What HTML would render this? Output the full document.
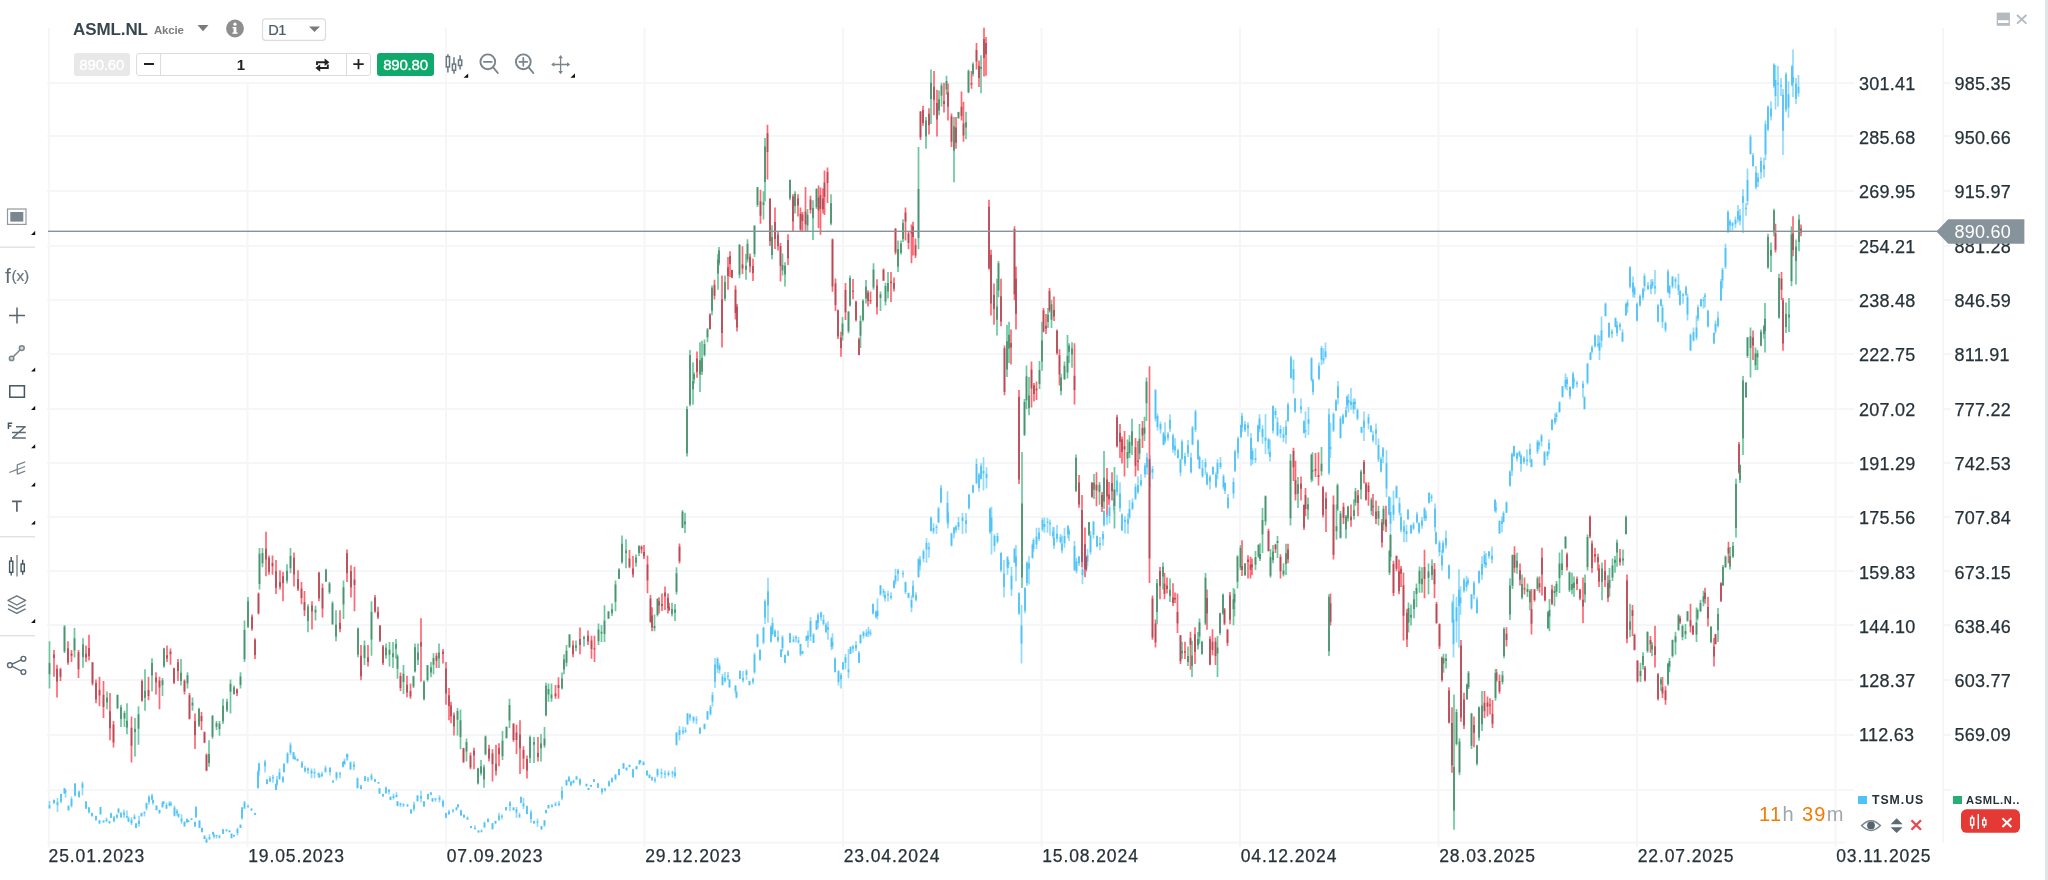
<!DOCTYPE html>
<html><head><meta charset="utf-8"><title>Chart</title>
<style>
html,body{margin:0;padding:0;background:#fff;}
body{width:2048px;height:880px;position:relative;overflow:hidden;font-family:"Liberation Sans",sans-serif;color:#263238;}
.abs{position:absolute;}
.ax{position:absolute;-webkit-text-stroke:0.25px #263238;font-size:18px;line-height:22px;height:22px;color:#263238;letter-spacing:0.25px;white-space:nowrap;}
.dt{position:absolute;-webkit-text-stroke:0.25px #263238;top:845px;font-size:17.5px;line-height:22px;color:#263238;letter-spacing:0.9px;white-space:nowrap;}
#chart{position:absolute;left:0;top:0;}
.tri{position:absolute;width:0;height:0;border-left:4.2px solid transparent;border-bottom:4.2px solid #111;}
.sep{position:absolute;left:0;width:35px;height:1.5px;background:#dfe2e4;}
</style></head>
<body>
<div id="root" style="position:absolute;left:0;top:0;width:2048px;height:880px;will-change:transform;">
<svg id="chart" width="2048" height="880" viewBox="0 0 2048 880">
<rect x="48.0" y="28" width="2" height="819.5" fill="#f5f6f8"/>
<rect x="246.5" y="28" width="2" height="819.5" fill="#f5f6f8"/>
<rect x="445.0" y="28" width="2" height="819.5" fill="#f5f6f8"/>
<rect x="643.5" y="28" width="2" height="819.5" fill="#f5f6f8"/>
<rect x="842.0" y="28" width="2" height="819.5" fill="#f5f6f8"/>
<rect x="1040.5" y="28" width="2" height="819.5" fill="#f5f6f8"/>
<rect x="1239.0" y="28" width="2" height="819.5" fill="#f5f6f8"/>
<rect x="1437.5" y="28" width="2" height="819.5" fill="#f5f6f8"/>
<rect x="1636.0" y="28" width="2" height="819.5" fill="#f5f6f8"/>
<rect x="1834.5" y="28" width="2" height="819.5" fill="#f5f6f8"/>
<rect x="1942" y="28" width="2" height="815" fill="#f5f6f8"/>
<rect x="47" y="82.0" width="1807" height="2" fill="#f5f6f8"/>
<rect x="1943" y="82.0" width="8" height="2" fill="#f5f6f8"/>
<rect x="47" y="135.0" width="1807" height="2" fill="#f5f6f8"/>
<rect x="1943" y="135.0" width="8" height="2" fill="#f5f6f8"/>
<rect x="47" y="190.0" width="1807" height="2" fill="#f5f6f8"/>
<rect x="1943" y="190.0" width="8" height="2" fill="#f5f6f8"/>
<rect x="47" y="245.0" width="1807" height="2" fill="#f5f6f8"/>
<rect x="1943" y="245.0" width="8" height="2" fill="#f5f6f8"/>
<rect x="47" y="299.0" width="1807" height="2" fill="#f5f6f8"/>
<rect x="1943" y="299.0" width="8" height="2" fill="#f5f6f8"/>
<rect x="47" y="353.0" width="1807" height="2" fill="#f5f6f8"/>
<rect x="1943" y="353.0" width="8" height="2" fill="#f5f6f8"/>
<rect x="47" y="408.0" width="1807" height="2" fill="#f5f6f8"/>
<rect x="1943" y="408.0" width="8" height="2" fill="#f5f6f8"/>
<rect x="47" y="462.0" width="1807" height="2" fill="#f5f6f8"/>
<rect x="1943" y="462.0" width="8" height="2" fill="#f5f6f8"/>
<rect x="47" y="516.0" width="1807" height="2" fill="#f5f6f8"/>
<rect x="1943" y="516.0" width="8" height="2" fill="#f5f6f8"/>
<rect x="47" y="570.0" width="1807" height="2" fill="#f5f6f8"/>
<rect x="1943" y="570.0" width="8" height="2" fill="#f5f6f8"/>
<rect x="47" y="624.0" width="1807" height="2" fill="#f5f6f8"/>
<rect x="1943" y="624.0" width="8" height="2" fill="#f5f6f8"/>
<rect x="47" y="679.0" width="1807" height="2" fill="#f5f6f8"/>
<rect x="1943" y="679.0" width="8" height="2" fill="#f5f6f8"/>
<rect x="47" y="734.0" width="1807" height="2" fill="#f5f6f8"/>
<rect x="1943" y="734.0" width="8" height="2" fill="#f5f6f8"/>
<rect x="47" y="789.0" width="1807" height="2" fill="#f5f6f8"/>
<rect x="1943" y="789.0" width="8" height="2" fill="#f5f6f8"/>
<rect x="47" y="841.6" width="1798" height="2" fill="#f5f6f8"/>
<path d="M49.5 801.0V809.1M57.5 798.1V812.0M64.5 787.9V793.7M68.5 805.4V810.6M75.0 783.0V796.6M82.5 781.6V795.2M89.0 806.9V813.5M96.0 815.7V820.8M100.5 806.9V815.0M106.5 817.6V822.3M111.0 812.8V817.9M117.0 814.2V818.6M121.0 812.0V817.9M127.0 810.6V818.6M131.5 817.2V825.2M136.0 823.0V828.1M141.5 812.8V816.4M146.5 802.5V810.6M152.0 793.7V800.3M156.5 805.4V810.6M162.5 801.8V807.6M166.5 802.5V809.1M171.0 801.8V806.2M177.0 809.1V815.7M181.5 814.2V823.7M187.0 818.6V823.0M191.5 818.3V820.1M196.0 806.5V817.9M202.0 827.4V832.5M206.5 837.7V842.8M213.0 831.8V834.7M216.5 834.7V838.4M223.0 828.9V834.0M229.5 830.3V832.5M234.0 834.7V836.9M240.5 824.5V828.1M244.5 801.0V809.1M251.5 808.4V810.6M258.0 770.3V788.6M265.0 759.7V772.5M270.0 776.1V782.0M276.0 783.5V790.1M279.5 768.4V779.8M284.0 763.0V772.5M290.5 742.5V754.9M295.0 755.6V760.0M302.0 761.1V768.1M308.0 767.4V773.9M314.5 768.4V778.3M319.5 773.2V778.3M325.5 765.4V772.5M333.0 780.5V782.7M340.0 771.7V778.3M344.5 758.6V765.2M347.5 753.7V760.0M354.0 761.5V770.3M361.0 784.9V789.3M368.0 776.9V782.0M375.0 779.1V782.0M379.5 787.9V793.7M386.0 786.4V793.7M390.5 796.6V800.3M396.5 792.3V797.4M400.5 802.5V806.9M407.5 804.0V806.9M414.0 801.8V811.3M421.0 790.8V802.5M428.0 793.7V799.6M432.5 798.1V801.8M439.5 795.2V802.5M446.0 812.8V817.9M453.0 809.1V812.8M458.0 804.0V807.6M464.0 814.2V817.9M471.0 825.9V828.1M478.5 830.3V832.5M484.5 821.5V828.1M492.5 823.0V829.6M499.0 812.8V820.8M506.0 806.9V810.6M513.5 806.9V810.6M519.5 812.8V817.9M523.5 798.1V809.1M531.0 809.8V823.0M537.5 818.6V826.7M544.5 820.1V826.7M548.5 804.7V808.4M555.5 801.8V806.2M562.0 786.4V800.3M569.0 776.1V782.0M573.5 779.8V783.5M580.0 778.3V785.7M588.5 787.9V790.1M594.0 779.1V782.0M602.0 787.9V794.4M609.0 780.5V786.4M615.5 773.9V780.5M623.5 763.0V768.8M629.5 764.4V767.4M636.5 765.9V769.5M640.5 760.0V762.6M647.0 770.5V775.7M652.0 776.5V780.9M657.5 768.4V777.0M665.0 770.5V778.3M672.5 770.5V777.5M676.5 732.0V745.6M683.0 726.8V734.6M687.5 712.9V725.2M693.5 716.3V723.4M700.0 727.3V733.9M707.5 711.1V720.0M712.5 692.0V706.4M717.5 657.3V672.9M722.5 673.7V685.5M728.0 671.9V680.3M735.5 685.0V693.3M740.0 670.3V679.0M746.5 669.3V679.7M753.0 677.6V684.2M757.5 633.7V647.6M763.5 626.7V644.2M768.0 577.8V622.7M772.5 617.5V635.8M778.0 630.6V642.4M782.5 635.3V651.5M788.0 650.2V656.2M793.5 635.8V642.4M798.5 637.1V643.7M802.5 651.0V654.6M808.0 630.6V647.6M813.5 633.2V643.1M818.0 612.8V628.5M823.5 614.4V625.4M828.0 621.4V639.7M832.5 633.2V648.9M838.5 670.3V685.5M843.0 662.0V669.8M848.5 648.9V678.2M853.0 645.0V652.8M859.0 651.0V663.3M863.5 631.1V638.4M868.5 626.7V637.1M873.0 603.6V614.5M877.5 598.2V619.4M883.5 588.6V596.8M888.0 590.8V601.4M894.0 580.4V588.6M898.0 568.7V581.3M905.5 581.8V594.1M911.5 595.4V612.3M916.0 592.2V601.4M920.0 555.9V570.4M926.5 538.2V562.7M931.0 516.4V531.4M936.5 524.5V534.1M941.0 485.0V503.3M948.0 511.4V528.6M954.0 526.7V538.2M958.5 516.9V530.0M966.0 513.1V533.3M973.0 485.0V493.2M979.0 472.7V491.8M983.5 457.2V490.4M990.0 507.6V534.1M994.5 534.1V551.8M1001.0 552.4V572.3M1007.5 555.9V575.0M1011.5 566.8V596.0M1016.0 545.0V581.3M1021.5 605.0V663.6M1027.0 561.4V585.9M1032.5 543.6V558.6M1036.5 527.8V549.1M1042.5 517.7V531.4M1047.5 517.7V532.7M1053.0 526.7V538.2M1057.0 525.1V542.3M1062.0 535.4V553.2M1068.0 525.1V538.2M1074.5 540.9V570.9M1079.0 555.9V566.0M1085.0 558.6V576.4M1087.5 548.7V566.5M1093.5 520.7V538.4M1100.0 536.9V550.2M1104.0 510.3V526.6M1109.5 504.4V523.6M1117.0 474.8V495.5M1122.0 513.3V531.0M1128.0 513.3V534.0M1132.5 498.5V510.3M1138.0 476.3V494.1M1145.0 463.0V477.8M1150.0 455.6V486.7M1155.5 389.1V421.6M1160.5 421.6V433.5M1165.0 422.2V443.8M1170.0 414.2V432.0M1175.0 437.9V455.6M1180.5 458.6V476.3M1185.0 452.7V466.0M1191.0 452.7V473.4M1195.5 409.8V432.0M1199.5 455.6V468.9M1205.5 458.6V474.8M1210.0 474.8V489.6M1216.0 472.5V488.1M1220.5 457.1V468.9M1225.0 482.2V494.1M1233.5 477.8V498.5M1238.0 436.4V458.6M1242.0 412.8V432.0M1248.0 422.2V436.4M1252.5 448.2V464.5M1258.0 424.6V442.3M1262.5 425.2V443.8M1268.5 437.9V454.2M1273.0 405.4V433.5M1277.5 417.2V436.4M1283.5 427.0V442.3M1288.0 402.4V421.6M1293.5 359.6V393.6M1301.0 398.6V413.4M1305.5 411.3V437.9M1311.5 357.2V381.7M1319.0 362.5V380.3M1323.5 348.3V364.0M1329.0 408.4V475.1M1333.5 412.4V432.0M1338.0 381.0V404.5M1343.0 413.7V424.1M1347.0 395.4V408.4M1351.0 388.0V409.7M1355.0 398.5V409.7M1361.5 426.7V433.3M1368.5 413.7V429.3M1373.0 430.7V442.4M1378.5 438.5V462.0M1383.0 447.1V463.3M1389.0 496.0V515.6M1393.5 490.8V520.8M1399.5 497.3V515.6M1404.0 520.3V542.3M1408.0 509.1V519.5M1413.5 522.2V530.0M1419.0 522.2V533.9M1424.5 507.1V521.0M1429.0 492.2V503.4M1435.0 503.4V531.4M1439.5 540.6V556.2M1443.0 540.6V553.1M1449.0 564.6V579.2M1453.5 594.1V657.6M1459.0 569.3V647.7M1464.0 577.7V592.8M1468.0 577.7V585.0M1474.0 581.1V599.3M1479.0 570.6V583.7M1484.5 551.0V567.2M1489.0 551.0V558.8M1495.0 499.3V511.8M1499.5 520.2V534.0M1503.5 511.3V522.3M1510.0 470.2V486.5M1514.0 445.7V456.9M1519.5 450.4V456.9M1524.0 456.3V464.3M1530.0 443.6V462.8M1537.5 439.8V454.0M1541.5 433.9V446.6M1547.5 451.0V459.9M1552.0 419.1V430.3M1556.5 412.0V421.4M1562.5 386.0V397.8M1567.0 377.1V390.4M1573.0 371.8V388.9M1577.0 380.7V387.5M1584.5 396.3V409.6M1590.5 352.0V360.0M1595.0 334.2V347.5M1599.5 335.7V360.0M1605.5 302.6V316.5M1612.0 329.2V338.1M1617.0 320.9V336.3M1622.5 329.2V342.2M1627.5 299.7V312.7M1633.0 276.6V297.3M1637.0 302.6V321.5M1643.0 287.8V300.3M1648.0 281.9V289.9M1652.5 279.0V288.4M1658.0 303.8V322.4M1662.5 304.7V328.3M1668.0 269.2V292.9M1672.5 276.0V288.4M1678.5 273.6V294.9M1683.0 292.9V303.8M1687.5 293.7V320.4M1693.5 327.4V341.6M1698.0 304.7V320.9M1703.5 296.7V308.5M1708.0 309.7V327.4M1715.5 320.4V333.4M1721.0 279.0V300.8M1725.5 243.8V268.9M1730.0 219.3V232.1M1735.5 216.6V228.0M1740.0 208.9V225.3M1746.0 202.9V215.7M1750.5 134.8V154.4M1756.0 165.9V189.3M1761.0 157.2V179.0M1765.5 120.4V159.9M1771.0 101.3V120.4M1775.5 65.1V109.5M1781.0 78.1V95.9M1786.0 72.2V112.2M1792.0 65.1V86.3M1796.0 78.1V104.0" stroke="#4fc3f7" stroke-opacity="0.62" stroke-width="1.7" fill="none"/>
<path d="M54.0 799.6V804.0M61.0 793.7V803.2M65.5 789.3V797.4M71.5 796.6V807.6M79.0 790.8V797.4M86.0 801.0V809.1M92.0 812.8V816.4M99.5 820.1V823.7M103.5 820.5V822.6M109.5 820.8V823.7M114.0 815.7V822.3M118.5 808.4V813.5M124.0 809.8V817.9M128.5 816.4V822.3M134.5 814.2V819.4M139.0 815.7V826.7M144.5 811.3V816.4M149.0 795.2V804.7M153.0 799.6V804.7M159.5 809.8V813.5M163.5 801.0V804.0M169.5 801.0V806.2M174.5 805.4V816.4M178.5 813.5V817.9M184.5 821.5V826.7M188.5 820.1V822.3M195.0 821.5V826.7M199.5 820.1V828.1M204.5 835.5V839.1M209.5 834.3V839.9M214.0 833.3V838.4M219.5 834.7V838.4M226.5 829.3V831.8M231.5 833.3V838.4M237.5 827.4V835.5M242.0 806.9V819.4M248.0 804.4V807.6M255.0 812.8V815.0M259.0 762.5V775.4M267.0 779.1V784.2M273.0 774.7V782.7M277.0 776.1V785.7M283.0 776.1V782.7M287.5 752.3V763.7M293.5 752.0V759.3M297.5 758.6V761.5M305.0 765.9V772.5M311.5 768.4V778.3M318.5 772.5V777.6M322.0 771.7V776.9M330.0 766.9V775.4M336.5 771.7V780.5M343.0 761.5V767.4M347.0 753.4V760.8M350.5 761.5V769.5M357.5 777.6V788.6M365.0 776.1V781.3M371.5 773.2V780.5M378.5 782.0V783.5M383.0 793.7V796.6M389.0 789.3V794.4M393.5 793.7V799.6M397.5 801.0V806.2M403.5 803.2V806.9M411.0 809.1V813.5M417.5 795.2V801.8M424.0 801.0V806.9M431.0 792.3V795.2M435.5 798.1V801.8M443.0 799.6V807.6M449.0 809.8V815.0M456.5 806.9V810.6M461.0 809.8V815.7M467.5 816.4V820.1M475.0 825.2V829.6M481.5 829.6V832.5M488.0 818.6V822.3M495.5 820.8V823.7M502.0 814.2V819.4M510.0 801.0V811.3M516.5 806.9V817.9M521.0 796.6V803.2M527.0 805.4V814.2M534.0 820.8V823.7M541.5 825.9V829.6M546.0 809.8V813.5M552.0 804.0V807.6M559.0 801.0V806.2M566.5 779.8V785.7M571.0 781.3V785.7M576.5 776.1V779.8M586.5 783.5V786.4M591.0 784.9V786.8M598.0 782.7V787.9M605.0 787.9V791.5M612.0 777.6V782.7M619.0 768.8V775.4M626.5 767.4V770.3M633.0 768.8V777.6M639.5 760.0V764.4M643.5 761.3V765.2M649.5 774.4V778.3M655.0 777.0V782.7M661.5 768.6V778.3M668.5 770.5V776.5M675.0 767.1V778.3M679.5 726.0V740.4M685.5 727.3V733.1M690.0 713.5V720.8M696.5 716.3V724.2M704.5 723.4V729.4M710.5 705.1V715.6M715.0 658.0V688.1M719.5 663.3V673.7M725.0 671.9V682.4M729.5 679.0V688.1M736.5 690.7V698.6M743.0 671.1V682.4M749.5 680.8V685.5M754.5 652.8V673.7M760.0 649.4V660.7M765.0 599.2V624.1M771.0 625.4V642.4M775.0 629.3V637.1M781.0 648.9V657.3M785.0 654.6V663.3M790.0 632.7V643.1M796.0 635.3V642.4M800.5 643.7V656.2M806.5 635.8V641.0M810.5 617.0V641.0M816.5 620.1V630.1M821.0 611.8V620.7M826.0 622.7V633.2M831.5 637.1V650.2M835.0 657.3V672.4M841.0 672.9V688.6M845.5 654.1V669.3M850.5 646.3V654.1M856.0 641.0V651.0M860.5 634.5V643.7M866.5 629.3V637.1M870.5 629.5V635.8M876.0 610.4V618.6M880.5 585.1V595.4M885.0 591.3V601.4M891.0 592.2V599.5M895.5 568.7V584.5M903.0 570.4V577.7M908.5 592.7V598.2M913.0 580.4V598.2M918.5 557.8V577.7M923.5 549.6V562.2M929.0 542.3V557.8M933.5 523.2V534.1M938.5 506.8V523.2M947.5 491.3V524.5M951.5 532.7V546.4M956.0 525.1V532.7M962.5 513.1V534.1M969.0 494.0V509.5M976.5 458.5V484.2M981.0 463.2V479.5M986.5 467.3V488.5M991.5 506.8V554.5M997.5 532.7V543.6M1004.0 560.0V597.6M1008.5 560.0V568.2M1014.5 547.7V562.7M1019.0 592.2V615.1M1025.0 587.3V613.2M1029.0 555.9V584.5M1033.5 538.2V551.8M1039.0 527.8V540.9M1044.5 517.7V532.7M1050.0 519.6V535.4M1054.0 527.3V549.1M1060.5 534.1V543.6M1064.5 527.8V547.7M1069.0 528.6V540.9M1076.5 557.8V573.6M1082.5 552.4V584.0M1086.5 561.4V570.9M1090.5 531.0V554.7M1097.0 535.4V547.3M1103.0 531.0V545.8M1107.0 513.3V525.1M1114.0 489.6V513.3M1120.0 482.2V511.8M1125.0 516.2V533.4M1129.5 500.0V519.2M1135.5 483.7V500.0M1141.0 474.3V486.7M1147.0 452.7V474.8M1152.5 466.0V479.3M1157.5 413.4V430.5M1163.5 432.0V445.3M1168.0 432.0V440.8M1173.0 433.5V452.7M1178.0 448.8V458.6M1182.0 439.4V460.1M1188.0 440.0V457.1M1192.5 426.1V445.3M1198.0 439.4V460.1M1202.5 460.1V477.8M1207.0 471.9V485.2M1213.0 466.6V474.8M1217.5 459.2V479.3M1223.5 474.3V489.6M1228.0 494.1V508.8M1235.0 449.7V471.9M1241.0 424.6V437.9M1245.0 421.0V432.0M1251.0 432.9V466.0M1255.5 448.2V463.0M1259.5 414.2V432.0M1265.5 414.2V454.2M1270.0 439.4V461.5M1275.5 408.3V418.7M1280.5 425.2V437.9M1286.0 420.2V443.8M1291.0 355.7V378.8M1295.0 398.0V412.8M1304.0 420.2V433.5M1308.5 406.9V434.9M1313.0 378.8V395.0M1321.5 345.7V365.3M1325.5 342.5V358.8M1330.5 422.8V458.1M1336.0 399.3V411.0M1340.5 416.3V438.5M1346.0 407.1V417.6M1348.5 394.1V412.4M1353.5 398.5V413.7M1357.5 408.4V420.2M1364.0 411.6V441.1M1371.0 425.4V432.5M1376.0 423.6V445.0M1381.0 456.8V472.5M1386.5 450.3V497.3M1390.5 497.3V532.6M1396.5 485.6V498.6M1401.0 513.0V532.6M1406.5 524.8V542.3M1411.0 524.8V533.9M1417.0 511.7V523.5M1422.0 517.0V528.8M1426.0 510.5V521.0M1431.5 494.0V501.9M1436.0 531.4V544.5M1442.0 549.7V570.6M1446.0 530.6V548.4M1452.5 600.7V622.9M1456.5 596.7V642.5M1460.5 586.3V615.0M1466.5 575.8V591.5M1471.5 594.1V609.8M1477.0 596.7V613.7M1482.0 556.2V579.7M1486.0 553.1V568.0M1492.0 546.6V563.5M1496.0 501.9V513.1M1502.0 516.5V532.2M1506.5 501.4V513.1M1512.0 452.5V476.1M1517.0 452.5V461.4M1521.0 454.0V471.7M1527.0 449.5V465.8M1531.5 458.4V467.3M1539.0 440.7V449.5M1544.5 451.0V465.8M1549.0 439.2V454.0M1555.0 413.2V424.4M1559.5 401.3V412.6M1565.5 373.6V388.9M1570.0 386.0V399.3M1574.0 377.1V386.6M1583.0 380.7V397.8M1587.5 362.9V384.5M1592.0 345.2V353.5M1598.0 335.1V347.5M1601.5 316.5V347.5M1609.0 322.4V338.1M1615.5 317.4V327.4M1620.0 322.4V330.4M1626.0 302.6V315.6M1630.0 266.3V288.4M1634.5 286.1V297.9M1640.0 294.3V306.8M1644.5 273.6V291.4M1651.0 279.6V294.3M1655.0 270.1V294.3M1661.0 298.8V306.2M1665.5 321.5V332.2M1669.5 284.9V297.9M1675.5 277.2V288.4M1680.0 289.9V305.6M1686.0 285.5V295.8M1690.5 333.4V351.1M1696.5 315.6V340.2M1701.0 298.8V306.8M1705.0 292.9V307.6M1714.0 332.2V344.0M1718.0 311.5V327.4M1722.5 267.7V288.4M1728.0 210.3V232.9M1732.5 222.0V230.7M1738.0 204.9V222.6M1743.0 189.3V232.9M1747.5 168.6V204.9M1753.0 153.1V166.7M1758.0 173.0V187.1M1764.0 157.7V177.6M1768.0 105.4V131.3M1774.0 63.2V87.7M1778.0 65.9V106.8M1783.0 89.0V155.0M1788.5 81.4V117.7M1793.0 49.5V97.2M1798.5 74.9V96.7" stroke="#4fc3f7" stroke-opacity="0.62" stroke-width="1.7" fill="none"/>
<path d="M49.5 805.2V808.0M54.0 799.9V803.1M57.5 802.0V805.2M61.0 794.1V801.7M64.5 788.3V793.4M65.5 790.4V792.8M68.5 805.7V810.2M71.5 799.1V806.0M75.0 783.7V795.4M79.0 791.4V797.0M82.5 783.4V787.9M86.0 801.4V808.5M89.0 807.5V812.2M92.0 812.9V816.2M96.0 816.1V820.1M99.5 820.4V823.6M100.5 807.1V814.1M103.5 820.6V822.4M106.5 819.5V821.0M109.5 821.2V823.0M111.0 813.2V817.7M114.0 817.3V821.2M117.0 814.8V817.5M118.5 808.6V812.6M121.0 813.3V816.9M124.0 812.4V815.2M127.0 815.9V817.2M128.5 818.2V821.4M131.5 819.7V823.3M134.5 816.4V818.9M136.0 823.5V828.0M139.0 820.7V824.0M141.5 813.1V816.3M144.5 811.9V813.2M146.5 803.2V808.6M149.0 796.8V802.3M152.0 795.4V799.4M153.0 799.9V802.9M156.5 805.5V810.0M159.5 810.0V813.2M162.5 802.7V807.2M163.5 801.4V803.8M166.5 805.0V808.4M169.5 803.0V805.5M171.0 803.6V804.9M174.5 807.4V815.8M177.0 811.1V813.3M178.5 813.8V816.4M181.5 818.4V821.4M184.5 821.8V826.3M187.0 819.1V821.9M188.5 820.5V821.8M191.5 818.4V819.9M195.0 822.0V826.5M196.0 806.8V816.9M199.5 820.7V827.8M202.0 828.0V831.9M204.5 835.7V838.9M206.5 839.4V842.4M209.5 837.2V838.9M213.0 831.9V834.5M214.0 835.0V836.5M216.5 835.3V836.6M219.5 836.1V837.4M223.0 829.3V833.8M226.5 829.5V830.8M229.5 830.6V831.9M231.5 833.7V838.1M234.0 834.9V836.2M237.5 829.3V833.3M240.5 824.7V827.9M242.0 807.6V818.6M244.5 802.3V808.6M248.0 805.9V807.2M251.5 808.6V810.5M255.0 812.9V814.8M258.0 771.8V787.9M259.0 763.5V771.5M265.0 761.8V766.2M267.0 779.5V784.0M270.0 778.3V781.5M273.0 777.1V778.4M276.0 784.0V789.9M277.0 779.7V784.4M279.5 772.4V779.0M283.0 777.2V781.8M284.0 763.9V772.3M287.5 753.5V762.6M290.5 744.8V752.8M293.5 752.3V758.7M295.0 757.6V759.3M297.5 758.9V760.7M302.0 762.7V767.3M305.0 768.1V771.2M308.0 768.4V770.4M311.5 770.7V773.5M314.5 772.0V773.3M318.5 773.5V775.0M319.5 775.2V776.9M322.0 774.1V775.9M325.5 767.8V771.9M330.0 768.0V772.1M333.0 780.6V782.5M336.5 772.5V778.1M340.0 773.3V774.6M343.0 761.7V766.8M344.5 760.8V763.9M347.0 754.2V757.0M347.5 755.1V756.4M350.5 762.3V769.4M354.0 764.6V766.9M357.5 778.3V787.9M361.0 785.7V788.9M365.0 776.6V781.1M368.0 778.8V780.1M371.5 775.4V779.3M375.0 779.3V781.8M378.5 782.1V783.4M379.5 788.4V793.5M383.0 793.9V796.5M386.0 787.7V793.0M389.0 789.8V791.7M390.5 796.8V800.0M393.5 796.1V798.1M396.5 795.0V796.9M397.5 801.6V806.1M400.5 803.4V805.1M403.5 804.2V805.5M407.5 804.8V806.1M411.0 809.5V813.4M414.0 804.6V809.1M417.5 795.4V801.1M421.0 796.1V798.6M424.0 801.4V806.6M428.0 794.1V799.3M431.0 792.4V794.8M432.5 798.2V801.4M435.5 798.5V799.8M439.5 797.5V799.7M443.0 801.1V806.2M446.0 813.3V817.8M449.0 811.4V813.9M453.0 810.3V811.6M456.5 807.6V809.8M458.0 804.6V807.3M461.0 810.3V815.5M464.0 814.9V817.6M467.5 817.6V819.4M471.0 826.1V828.1M475.0 827.7V829.0M478.5 830.4V832.4M481.5 830.5V831.8M484.5 822.7V827.2M488.0 818.7V822.0M492.5 823.2V829.0M495.5 821.1V823.6M499.0 815.4V819.8M502.0 815.7V817.0M506.0 807.1V810.3M510.0 802.4V806.0M513.5 807.7V810.1M516.5 809.2V812.6M519.5 814.8V816.8M521.0 797.0V802.8M523.5 803.4V806.2M527.0 806.3V814.0M531.0 812.2V819.1M534.0 820.9V823.5M537.5 821.5V822.8M541.5 826.3V829.5M544.5 820.5V825.5M546.0 809.9V813.1M548.5 805.1V808.3M552.0 805.6V806.9M555.5 803.8V805.6M559.0 803.6V804.9M562.0 791.0V798.2M566.5 780.1V785.2M569.0 777.2V781.0M571.0 781.5V785.4M573.5 780.8V783.1M576.5 776.4V779.6M580.0 779.4V784.3M586.5 784.1V786.3M588.5 788.0V789.9M591.0 785.0V786.7M594.0 779.2V781.7M598.0 783.4V787.7M602.0 788.8V792.3M605.0 788.4V790.2M609.0 781.6V785.9M612.0 778.3V781.9M615.5 774.8V779.1M619.0 769.1V774.9M623.5 763.3V768.4M626.5 767.8V770.2M629.5 765.0V766.8M633.0 769.4V777.2M636.5 766.0V769.3M639.5 760.5V764.3M640.5 760.9V762.2M643.5 762.3V764.9M647.0 770.6V775.2M649.5 774.7V778.0M652.0 777.4V779.8M655.0 779.3V780.7M657.5 769.3V775.3M661.5 772.6V773.9M665.0 773.2V774.5M668.5 772.8V775.0M672.5 772.2V773.8M675.0 772.6V776.0M676.5 732.7V744.7M679.5 730.1V734.9M683.0 730.7V732.6M685.5 730.2V731.5M687.5 713.4V723.8M690.0 714.7V717.6M693.5 717.1V720.7M696.5 719.2V720.5M700.0 727.7V733.5M704.5 723.9V728.8M707.5 711.6V719.3M710.5 707.1V714.3M712.5 695.0V701.8M715.0 664.5V681.8M717.5 658.8V668.5M719.5 665.6V670.2M722.5 676.5V685.0M725.0 678.1V680.9M728.0 675.8V677.1M729.5 679.8V686.9M735.5 685.7V690.9M736.5 692.1V697.4M740.0 671.1V678.7M743.0 677.7V680.5M746.5 671.1V675.0M749.5 680.9V685.1M753.0 678.9V682.1M754.5 654.8V672.2M757.5 634.5V646.7M760.0 649.8V659.7M763.5 627.7V642.6M765.0 601.3V617.8M768.0 591.2V605.6M771.0 626.7V641.7M772.5 623.0V634.0M775.0 630.9V636.7M778.0 636.9V640.6M781.0 649.7V657.0M782.5 637.3V648.0M785.0 655.1V662.7M788.0 651.4V655.5M790.0 633.2V642.4M793.5 639.5V641.6M796.0 637.0V638.6M798.5 640.6V642.2M800.5 644.0V654.3M802.5 651.3V653.4M806.5 636.1V640.7M808.0 635.3V639.4M810.5 621.1V636.7M813.5 634.5V642.8M816.5 620.7V629.4M818.0 615.0V623.1M821.0 612.6V617.2M823.5 619.8V623.8M826.0 624.8V632.1M828.0 627.2V629.7M831.5 638.6V647.0M832.5 641.9V646.3M835.0 658.7V672.1M838.5 671.3V682.0M841.0 675.0V679.3M843.0 662.6V669.5M845.5 657.2V662.8M848.5 669.5V672.3M850.5 646.9V653.8M853.0 646.5V648.8M856.0 645.1V648.4M859.0 652.7V662.7M860.5 634.8V642.9M863.5 632.3V635.9M866.5 632.7V635.7M868.5 631.6V633.2M870.5 632.7V634.1M873.0 604.0V613.6M876.0 611.9V616.9M877.5 610.5V616.1M880.5 585.5V594.6M883.5 591.0V592.7M885.0 595.1V598.5M888.0 593.9V595.2M891.0 596.1V597.9M894.0 580.7V587.9M895.5 575.4V581.4M898.0 570.3V573.8M903.0 572.9V574.2M905.5 582.2V592.3M908.5 592.9V597.7M911.5 599.9V607.4M913.0 585.7V597.1M916.0 594.9V599.7M918.5 559.6V577.1M920.0 559.5V565.5M923.5 551.2V558.6M926.5 542.9V549.5M929.0 547.2V549.3M931.0 517.7V530.9M933.5 527.9V531.4M936.5 526.8V528.1M938.5 508.5V522.3M941.0 487.7V502.6M947.5 503.1V521.3M948.0 513.0V522.7M951.5 533.6V545.6M954.0 527.8V533.4M956.0 526.8V529.7M958.5 522.3V527.0M962.5 517.5V521.1M966.0 520.2V524.0M969.0 494.7V508.3M973.0 485.2V492.4M976.5 464.0V483.1M979.0 474.4V487.9M981.0 465.7V478.7M983.5 470.9V473.6M986.5 473.7V478.0M990.0 509.0V532.3M991.5 517.6V531.3M994.5 536.0V546.1M997.5 536.1V541.7M1001.0 552.8V570.3M1004.0 573.6V586.9M1007.5 557.4V567.5M1008.5 561.9V564.3M1011.5 575.8V589.5M1014.5 549.2V562.4M1016.0 556.5V566.6M1019.0 593.3V613.5M1021.5 625.5V643.5M1025.0 588.1V610.8M1027.0 562.6V583.1M1029.0 563.3V568.7M1032.5 544.7V557.9M1033.5 540.0V548.9M1036.5 536.6V544.4M1039.0 532.5V539.1M1042.5 519.9V529.5M1044.5 523.9V527.1M1047.5 521.5V522.8M1050.0 522.8V524.3M1053.0 531.8V535.9M1054.0 537.7V545.8M1057.0 533.7V538.7M1060.5 537.0V542.1M1062.0 543.4V550.4M1064.5 536.0V543.2M1068.0 526.2V534.5M1069.0 531.1V534.5M1074.5 546.0V569.8M1076.5 561.3V571.2M1079.0 556.4V563.6M1082.5 569.3V575.3M1085.0 567.3V568.6M1086.5 566.9V568.6M1087.5 554.9V562.1M1090.5 535.3V552.2M1093.5 522.1V534.7M1097.0 536.1V546.5M1100.0 543.3V544.9M1103.0 534.0V539.2M1104.0 510.7V525.0M1107.0 515.4V517.0M1109.5 507.5V516.1M1114.0 498.1V509.9M1117.0 480.5V491.9M1120.0 493.6V508.1M1122.0 514.7V530.3M1125.0 519.7V521.8M1128.0 519.1V523.8M1129.5 509.1V517.2M1132.5 502.4V508.7M1135.5 486.8V498.8M1138.0 485.0V492.1M1141.0 480.2V485.0M1145.0 465.6V474.3M1147.0 457.6V467.6M1150.0 462.9V474.6M1152.5 468.9V472.4M1155.5 390.2V418.8M1157.5 416.1V427.1M1160.5 424.0V429.5M1163.5 433.4V444.9M1165.0 435.7V441.3M1168.0 434.2V438.0M1170.0 419.7V428.7M1173.0 435.5V449.6M1175.0 445.7V450.4M1178.0 450.3V458.1M1180.5 459.7V472.6M1182.0 441.4V458.8M1185.0 456.0V463.4M1188.0 445.2V453.5M1191.0 457.5V472.2M1192.5 427.6V444.5M1195.5 411.5V429.8M1198.0 440.6V458.8M1199.5 456.9V468.6M1202.5 468.1V476.3M1205.5 462.3V467.2M1207.0 474.1V484.5M1210.0 476.9V481.6M1213.0 466.9V474.2M1216.0 474.5V486.4M1217.5 463.0V473.7M1220.5 462.8V467.1M1223.5 476.0V487.3M1225.0 483.1V490.7M1228.0 497.4V507.8M1233.5 482.0V493.4M1235.0 451.3V470.8M1238.0 438.5V453.0M1241.0 425.0V436.7M1242.0 415.8V427.4M1245.0 424.3V430.3M1248.0 425.0V428.3M1251.0 438.1V459.2M1252.5 451.1V460.1M1255.5 458.2V459.9M1258.0 425.6V441.2M1259.5 418.4V428.9M1262.5 428.9V436.9M1265.5 437.6V440.8M1268.5 439.6V448.7M1270.0 451.8V456.8M1273.0 406.1V430.8M1275.5 410.9V415.0M1277.5 422.2V435.0M1280.5 429.1V433.6M1283.5 434.3V437.8M1286.0 426.6V435.1M1288.0 404.4V421.3M1291.0 357.4V377.7M1293.5 368.9V380.0M1295.0 398.4V411.4M1301.0 406.6V409.4M1304.0 421.3V433.0M1305.5 430.0V431.7M1308.5 419.3V423.7M1311.5 358.3V379.8M1313.0 379.8V391.9M1319.0 365.8V378.8M1321.5 348.1V359.6M1323.5 358.3V360.6M1325.5 351.3V357.0M1329.0 414.5V473.1M1330.5 446.9V448.9M1333.5 414.0V430.4M1336.0 400.5V410.8M1338.0 386.2V397.9M1340.5 418.4V437.9M1343.0 415.5V423.6M1346.0 410.3V416.7M1347.0 396.6V405.8M1348.5 400.1V403.3M1351.0 401.5V404.9M1353.5 401.8V409.3M1355.0 401.9V404.0M1357.5 410.0V418.5M1361.5 426.9V432.6M1364.0 420.8V427.7M1368.5 417.2V423.4M1371.0 425.6V431.8M1373.0 435.1V440.6M1376.0 429.6V433.8M1378.5 445.1V459.6M1381.0 458.9V471.6M1383.0 448.6V456.7M1386.5 463.2V488.6M1389.0 497.3V514.6M1390.5 512.1V523.8M1393.5 505.2V514.6M1396.5 486.3V497.8M1399.5 503.2V512.7M1401.0 517.0V530.2M1404.0 526.4V531.8M1406.5 531.1V534.2M1408.0 510.0V519.2M1411.0 525.2V533.3M1413.5 524.5V528.6M1417.0 514.3V522.2M1419.0 523.3V532.2M1422.0 520.4V525.6M1424.5 508.7V518.6M1426.0 515.6V518.1M1429.0 493.0V502.8M1431.5 496.6V498.3M1435.0 508.7V527.0M1436.0 532.2V543.7M1439.5 542.8V552.3M1442.0 555.8V565.5M1443.0 543.1V552.5M1446.0 538.1V545.2M1449.0 565.6V578.5M1452.5 602.7V622.3M1453.5 619.4V644.2M1456.5 607.3V621.5M1459.0 589.7V605.9M1460.5 597.5V603.3M1464.0 579.8V590.7M1466.5 582.1V586.9M1468.0 580.3V583.3M1471.5 594.5V608.3M1474.0 583.1V594.8M1477.0 599.6V613.0M1479.0 571.1V582.6M1482.0 564.1V574.7M1484.5 555.0V563.9M1486.0 562.5V565.0M1489.0 551.5V556.3M1492.0 555.8V559.6M1495.0 499.7V510.7M1496.0 507.8V509.8M1499.5 521.0V533.2M1502.0 521.2V523.9M1503.5 512.9V521.9M1506.5 502.5V512.8M1510.0 471.4V485.8M1512.0 453.9V470.8M1514.0 446.0V455.9M1517.0 453.1V458.6M1519.5 452.0V455.6M1521.0 455.8V464.1M1524.0 458.0V462.1M1527.0 459.5V461.3M1530.0 448.7V454.7M1531.5 459.4V466.9M1537.5 441.8V451.8M1539.0 442.8V445.3M1541.5 435.8V441.6M1544.5 452.2V465.2M1547.5 452.0V455.9M1549.0 442.9V449.2M1552.0 420.1V430.0M1555.0 417.9V422.4M1556.5 414.3V417.1M1559.5 402.4V412.2M1562.5 386.3V396.7M1565.5 380.1V386.9M1567.0 379.2V384.0M1570.0 387.0V396.2M1573.0 373.8V388.5M1574.0 379.9V381.2M1577.0 382.7V384.2M1583.0 383.7V387.9M1584.5 397.4V409.1M1587.5 363.7V382.7M1590.5 352.7V359.8M1592.0 347.2V351.8M1595.0 335.4V346.2M1598.0 344.1V345.4M1599.5 342.7V350.7M1601.5 330.2V340.7M1605.5 303.8V316.0M1609.0 322.9V336.7M1612.0 331.4V333.7M1615.5 318.1V326.9M1617.0 325.3V332.9M1620.0 324.5V327.1M1622.5 332.4V341.2M1626.0 303.9V315.4M1627.5 302.5V306.6M1630.0 267.2V286.7M1633.0 282.4V292.3M1634.5 288.3V294.7M1637.0 304.1V320.4M1640.0 296.2V304.9M1643.0 289.2V297.6M1644.5 276.1V285.9M1648.0 285.4V288.9M1651.0 284.7V289.0M1652.5 281.7V285.8M1655.0 286.3V288.5M1658.0 305.2V321.6M1661.0 299.4V305.9M1662.5 307.6V322.1M1665.5 323.1V329.7M1668.0 271.5V292.3M1669.5 286.1V293.8M1672.5 276.8V286.4M1675.5 279.3V281.6M1678.5 284.7V290.2M1680.0 291.0V304.8M1683.0 294.4V295.8M1686.0 287.2V294.7M1687.5 297.2V314.5M1690.5 334.7V350.3M1693.5 332.0V340.4M1696.5 327.4V337.6M1698.0 307.3V318.5M1701.0 299.3V306.3M1703.5 299.8V301.1M1705.0 295.3V297.1M1708.0 311.0V326.6M1714.0 332.9V343.3M1715.5 323.7V331.4M1718.0 317.7V326.0M1721.0 281.2V300.4M1722.5 269.6V280.6M1725.5 248.1V266.6M1728.0 211.9V231.8M1730.0 221.2V225.5M1732.5 223.2V225.8M1735.5 219.7V224.3M1738.0 210.9V219.6M1740.0 215.2V220.8M1743.0 196.3V202.8M1746.0 207.8V209.1M1747.5 179.9V201.0M1750.5 136.8V154.1M1753.0 155.3V166.0M1756.0 172.5V187.3M1758.0 177.4V182.1M1761.0 161.1V172.2M1764.0 165.1V169.2M1765.5 124.2V154.5M1768.0 106.7V129.5M1771.0 108.6V116.6M1774.0 64.5V86.1M1775.5 80.1V96.0M1778.0 83.3V84.6M1781.0 85.1V86.6M1783.0 94.8V130.8M1786.0 74.2V109.4M1788.5 94.2V107.4M1792.0 66.4V85.1M1793.0 77.0V83.0M1796.0 83.8V98.8M1798.5 86.7V93.2" stroke="#4fc3f7" stroke-width="1.7" fill="none"/>
<path d="M54.0 650.1V676.7M57.0 664.8V697.4M60.5 667.8V681.1M68.0 641.2V664.8M71.5 650.1V661.9M78.5 650.1V678.1M86.0 645.6V661.9M89.0 634.7V660.4M92.5 661.9V685.5M96.0 679.6V703.3M99.5 676.7V706.2M103.5 681.1V718.0M110.0 692.9V740.2M113.5 721.0V747.6M131.5 716.6V762.4M142.0 679.6V701.8M148.5 676.7V700.3M156.0 672.2V694.4M159.5 676.7V709.2M167.0 645.6V661.9M170.5 648.6V664.8M174.0 667.8V684.1M178.0 658.9V681.1M184.5 679.6V694.4M189.5 692.9V719.5M195.0 713.6V749.1M201.5 712.1V729.9M204.5 731.4V743.2M206.5 753.5V771.3M237.0 688.5V695.9M252.0 614.6V630.8M255.0 638.2V658.9M258.5 592.4V614.6M266.0 531.8V576.2M269.0 555.5V574.7M272.5 555.5V574.7M276.0 559.9V593.9M280.0 570.3V589.5M283.0 571.7V601.3M294.0 552.5V586.5M298.0 570.3V590.9M301.5 582.1V604.2M304.5 590.9V616.1M312.0 601.3V629.4M319.0 571.7V601.3M322.5 583.6V617.5M340.0 610.2V632.3M347.0 549.6V582.1M351.0 565.3V597.5M354.5 566.8V611.3M361.0 645.0V680.3M368.0 645.0V666.5M375.0 595.0V612.8M378.0 606.7V619.0M380.0 625.1V642.0M383.0 645.0V665.0M400.5 672.6V691.0M407.0 675.7V697.2M410.5 683.4V698.7M421.0 618.3V681.8M436.5 652.7V668.0M443.0 649.0V663.4M446.0 661.9V704.8M449.0 688.0V720.2M451.0 701.8V723.3M454.0 712.5V735.5M463.5 747.8V763.1M470.5 752.4V769.3M474.0 747.8V769.3M489.0 744.7V761.6M492.5 749.3V781.5M496.0 744.7V775.4M499.0 743.2V766.2M513.5 723.3V741.7M516.5 724.8V753.9M520.0 720.2V773.9M523.5 746.3V769.3M527.0 755.5V778.5M538.0 737.1V761.6M555.5 684.9V698.7M558.5 677.2V698.7M573.0 640.4V657.3M580.0 627.5V654.2M588.0 630.6V645.0M591.5 635.8V658.8M594.5 635.8V661.9M629.5 549.9V568.3M633.0 556.1V577.5M641.5 545.5V553.6M644.0 545.1V559.1M647.5 555.5V593.3M650.5 595.1V622.7M652.0 607.3V631.3M659.0 597.3V613.6M662.0 593.6V610.9M665.0 586.4V610.0M668.0 593.6V613.6M669.0 602.7V610.9M679.5 543.6V563.6M697.0 351.4V377.8M710.0 313.3V329.5M714.5 279.7V299.6M722.0 275.4V347.4M728.0 257.0V289.7M730.0 251.3V276.9M732.0 269.8V278.3M735.5 285.4V319.5M737.0 303.9V331.5M742.5 246.2V274.0M750.0 253.6V272.6M753.0 258.4V281.1M760.5 189.8V223.8M767.5 124.8V179.5M770.0 198.1V246.0M775.0 207.5V248.9M778.0 231.2V250.4M780.5 243.0V281.4M788.0 234.2V265.2M793.0 194.2V231.2M798.0 194.2V216.4M800.5 207.5V231.2M802.5 212.0V231.2M805.5 186.9V231.2M810.5 195.7V213.5M818.5 185.4V228.2M820.5 187.4V234.7M823.0 188.3V213.5M824.5 170.6V214.9M827.5 167.6V203.1M832.5 238.6V291.8M835.5 278.5V311.0M838.0 309.5V339.1M841.0 331.7V356.8M845.5 282.9V319.9M853.0 279.1V299.2M856.0 300.7V321.4M859.0 337.6V355.3M868.0 290.3V306.6M870.5 291.5V303.9M877.0 279.2V314.4M883.5 268.6V280.9M891.0 272.1V302.1M894.0 277.4V291.5M895.5 228.0V254.5M905.5 207.6V240.4M908.5 231.6V249.2M911.5 224.5V263.3M913.0 221.7V255.5M915.5 238.6V258.0M920.5 111.0V139.9M923.0 105.7V125.8M929.0 108.2V134.6M934.0 71.1V115.2M937.0 89.8V136.4M944.0 82.8V112.4M948.0 83.5V120.5M951.5 113.4V146.9M956.0 117.0V148.7M961.5 91.6V120.5M963.5 101.8V141.7M971.5 71.1V88.8M976.5 42.9V69.4M979.0 60.6V87.0M984.0 27.8V76.4M986.0 36.9V75.7M989.0 199.8V269.7M991.0 249.7V315.6M994.0 283.4V324.8M1001.0 278.8V326.3M1004.5 345.6V395.3M1011.0 329.4V364.6M1014.5 226.2V300.3M1016.0 266.6V329.4M1019.0 390.0V484.0M1031.5 361.6V407.5M1034.0 383.0V401.4M1036.5 381.5V399.9M1043.5 308.0V332.5M1046.0 314.1V334.0M1049.5 288.0V312.5M1054.0 296.6V321.1M1057.0 329.4V354.8M1059.5 349.3V385.5M1074.5 343.2V404.5M1079.0 475.0V507.7M1082.0 494.9V567.3M1085.0 527.6V577.3M1086.0 556.0V571.6M1092.0 482.1V497.7M1096.5 472.2V506.2M1102.0 492.0V511.9M1107.0 467.9V514.8M1109.0 482.1V504.8M1112.0 472.2V500.6M1117.0 414.8V447.4M1120.0 423.9V458.0M1122.0 436.6V463.6M1124.5 431.0V476.4M1135.5 438.1V476.4M1138.0 440.9V470.7M1142.5 421.0V448.0M1149.5 366.2V583.0M1152.5 595.4V639.8M1155.5 619.5V647.5M1160.0 567.0V599.2M1164.5 573.1V599.2M1167.0 577.4V593.4M1173.0 583.2V606.0M1175.0 592.5V603.1M1177.5 593.4V633.0M1180.5 635.0V664.0M1185.0 641.7V659.1M1190.5 631.7V669.8M1195.0 627.2V664.0M1207.0 589.6V629.8M1210.0 636.3V665.3M1212.5 629.2V655.3M1215.5 637.5V664.9M1224.5 607.9V625.3M1227.5 628.8V646.0M1230.0 591.9V624.3M1242.0 540.3V576.0M1248.0 555.2V578.4M1250.5 556.7V578.4M1252.0 558.6V575.1M1268.5 528.8V551.6M1275.5 543.7V552.9M1280.5 554.2V578.5M1288.0 543.7V563.3M1293.5 447.8V481.0M1295.5 460.8V500.6M1301.0 476.5V500.6M1304.0 504.5V530.1M1305.5 488.0V516.3M1315.5 453.0V477.1M1318.5 452.2V485.4M1323.0 486.2V517.6M1326.0 492.2V532.0M1330.5 593.4V625.6M1333.5 495.4V559.4M1343.5 502.7V524.1M1351.0 504.5V526.7M1358.0 490.1V516.3M1364.0 460.1V483.6M1366.0 482.3V500.6M1368.5 482.3V505.8M1373.0 494.1V516.3M1376.0 500.6V524.1M1382.0 518.9V547.6M1386.0 505.8V532.0M1393.5 560.7V596.0M1396.5 555.5V571.2M1399.0 559.4V594.2M1401.0 565.9V586.9M1403.5 572.5V640.5M1407.0 609.1V647.0M1424.5 549.8V598.2M1434.5 562.9V598.2M1436.5 601.8V623.6M1439.5 623.6V649.1M1442.0 656.4V681.8M1449.0 687.3V723.6M1452.0 707.3V772.7M1461.0 640.0V721.8M1464.0 692.7V729.1M1474.0 716.4V747.3M1484.5 690.9V718.2M1487.5 696.4V716.4M1490.0 698.2V714.5M1492.5 700.0V728.0M1496.5 669.1V681.8M1499.5 674.5V693.8M1506.5 627.3V646.5M1514.5 546.2V572.7M1520.0 563.6V585.5M1524.5 577.5V594.5M1531.5 589.1V634.5M1534.5 589.1V601.8M1539.5 576.4V592.7M1542.0 547.7V595.5M1545.0 586.4V601.4M1552.0 584.7V605.0M1567.0 552.5V570.4M1577.0 576.4V590.2M1580.0 588.8V600.2M1583.0 577.6V622.9M1590.0 515.5V538.2M1592.0 540.6V572.8M1595.0 547.7V562.5M1598.0 553.7V570.4M1599.0 564.4V587.1M1605.0 559.7V587.1M1608.0 575.2V602.1M1620.0 548.9V565.6M1627.0 574.5V643.2M1632.5 605.0V636.0M1634.5 633.7V650.4M1637.5 659.9V682.6M1645.0 665.9V681.4M1650.5 636.0V652.7M1655.0 625.8V667.5M1658.0 673.0V700.5M1662.5 677.1V698.1M1665.5 686.2V704.8M1680.0 615.8V624.1M1690.5 603.8V632.5M1693.0 625.3V634.8M1705.0 587.8V603.8M1708.0 596.7V626.5M1714.0 637.9V666.6M1715.5 633.7V644.4M1721.0 582.3V602.1M1728.5 541.8V563.2M1739.0 442.0V473.8M1753.0 330.5V360.0M1775.5 223.8V252.5M1781.5 272.0V300.0M1783.0 298.0V350.8M1793.0 216.2V256.2M1801.0 224.5V236.2" stroke="#ff6872" stroke-width="1.7" fill="none"/>
<path d="M49.5 641.2V688.5M64.5 624.9V653.0M74.5 627.9V657.5M83.0 638.2V667.8M107.0 691.4V709.2M117.5 694.4V709.2M121.0 704.7V726.9M124.5 710.7V726.9M127.0 703.3V734.3M135.0 718.0V756.5M138.5 706.2V744.7M145.0 669.3V710.7M152.0 658.3V691.4M162.5 678.1V695.9M164.0 647.7V667.8M181.0 658.9V685.5M187.5 672.2V688.5M192.5 697.4V710.7M199.0 707.7V726.9M209.0 740.2V766.8M212.5 715.1V738.7M216.5 721.0V729.9M219.5 721.0V735.8M223.0 698.8V724.0M227.0 698.8V712.1M230.5 679.6V713.6M234.0 685.5V694.4M240.5 672.2V688.5M244.5 620.5V661.9M248.0 596.9V627.9M259.5 548.1V589.5M262.5 548.1V567.3M287.0 564.3V583.6M290.5 548.1V573.2M308.0 604.2V632.3M315.5 605.7V620.5M326.0 568.8V582.1M329.5 582.1V593.9M332.5 601.3V624.9M336.0 610.2V641.2M343.5 580.6V619.0M358.0 627.5V657.3M364.5 640.4V665.0M371.5 601.2V655.8M386.0 643.5V658.8M389.5 642.0V666.5M393.0 642.0V668.0M396.0 638.9V658.8M397.5 654.2V678.8M403.5 665.0V694.1M413.5 675.7V688.0M415.0 643.5V672.6M418.0 643.5V665.0M424.0 680.3V700.2M427.5 665.0V681.8M431.0 661.9V677.2M433.5 653.3V674.2M439.0 643.5V668.0M457.5 707.9V735.5M460.5 709.4V749.3M466.5 738.6V761.6M478.0 767.7V784.6M481.0 760.1V775.4M484.0 764.7V787.7M485.5 735.5V755.5M502.5 730.9V760.1M506.5 726.3V738.6M509.5 698.7V727.9M530.0 735.5V763.1M534.0 737.1V763.1M541.0 734.0V761.6M544.5 726.9V747.8M546.0 682.8V716.2M548.5 683.4V701.8M551.5 683.4V701.8M562.0 672.6V689.5M564.0 654.2V674.2M566.5 645.0V666.5M569.5 634.3V648.1M576.0 640.4V651.2M584.0 635.8V646.6M598.5 623.6V645.0M601.5 625.1V642.0M604.5 605.2V642.0M608.5 611.3V619.0M612.0 603.6V615.9M615.5 580.6V611.3M619.0 568.3V579.1M622.0 535.5V563.7M626.0 539.2V568.3M636.0 554.5V566.8M639.0 545.3V556.1M654.5 614.5V631.3M657.5 598.2V616.4M672.0 602.7V616.4M675.0 604.0V620.9M676.5 567.3V594.5M682.5 510.0V528.2M685.0 512.7V533.1M687.0 406.2V456.6M690.0 349.9V406.2M693.0 362.2V404.8M694.0 372.1V383.5M700.0 342.3V392.0M702.0 340.8V375.0M704.5 339.4V356.5M707.5 328.0V342.3M712.0 285.4V315.3M718.0 254.1V289.7M719.0 247.0V265.5M725.0 275.4V301.0M739.5 244.2V278.3M746.0 254.1V279.7M747.5 239.3V262.6M754.5 225.1V257.0M757.5 186.9V207.0M763.5 191.3V219.4M765.0 138.1V201.6M772.0 225.3V259.3M782.5 253.4V275.5M785.0 262.2V286.5M790.0 179.5V200.2M795.0 191.3V213.5M807.5 209.0V231.2M813.0 200.2V240.1M816.5 188.3V209.0M831.0 194.2V225.3M842.5 316.9V340.6M848.5 311.0V333.2M850.0 275.5V306.6M860.5 315.4V348.0M863.0 299.2V321.4M866.0 280.0V303.6M873.5 263.3V289.7M880.5 291.5V310.9M885.5 282.7V305.6M888.0 272.1V298.6M898.0 240.4V272.1M901.0 240.4V254.5M903.0 219.2V242.1M918.5 146.9V249.2M926.0 117.0V148.7M931.0 69.4V124.0M939.0 90.5V115.2M941.5 82.8V106.4M946.5 75.7V94.8M954.0 117.0V182.2M958.5 111.7V118.7M966.0 111.7V139.2M968.5 69.4V93.3M973.0 62.3V76.4M981.0 55.3V93.3M997.0 278.8V335.5M998.5 261.1V297.2M1007.0 324.8V376.9M1009.0 321.7V363.1M1022.0 452.0V588.0M1024.5 399.0V436.0M1026.5 365.6V409.1M1029.0 376.9V415.2M1039.5 361.0V389.1M1042.0 321.7V370.8M1048.0 308.0V327.9M1051.5 299.7V327.9M1061.0 373.8V395.3M1064.5 361.6V380.0M1067.5 334.9V378.4M1069.0 343.2V363.1M1072.0 342.3V367.7M1076.0 454.5V492.0M1089.0 521.9V536.1M1094.0 474.1V499.1M1099.5 482.1V504.8M1104.0 450.9V509.1M1114.5 467.0V528.4M1127.5 439.5V467.9M1129.5 435.2V458.0M1132.0 418.8V455.1M1139.5 423.9V459.4M1144.5 416.8V440.9M1146.5 377.6V421.0M1157.0 578.9V624.3M1163.0 562.5V589.6M1170.0 578.6V602.1M1182.0 641.7V659.1M1188.0 646.6V665.9M1192.0 640.8V676.9M1198.0 632.1V649.5M1199.5 618.6V643.7M1202.0 640.8V654.7M1205.5 573.1V625.3M1217.5 635.9V676.9M1220.0 612.8V635.0M1223.0 593.4V614.7M1233.5 588.0V625.3M1234.5 589.2V616.6M1237.5 555.2V588.6M1240.5 545.1V570.2M1245.0 562.9V576.0M1255.5 550.9V569.9M1258.5 544.2V557.7M1260.0 543.2V561.0M1262.5 507.9V552.9M1265.5 495.4V525.4M1270.5 549.0V577.7M1273.0 545.0V563.3M1277.5 535.9V558.1M1283.5 563.3V576.4M1286.0 543.7V575.1M1290.5 454.1V525.4M1298.0 477.1V507.9M1308.0 497.5V519.4M1311.5 454.1V482.3M1312.5 452.2V481.0M1321.5 447.0V475.8M1329.0 594.2V656.1M1336.5 504.5V539.8M1337.5 483.6V511.0M1340.5 511.0V538.5M1346.0 515.0V538.5M1348.0 505.8V521.5M1354.0 499.3V519.4M1355.5 488.0V505.8M1361.0 469.7V499.3M1371.5 497.5V515.0M1378.5 505.8V525.4M1383.5 505.8V530.7M1389.5 550.3V575.1M1390.5 533.3V560.7M1408.5 602.5V632.6M1411.0 604.4V625.5M1414.0 590.9V618.2M1416.5 583.6V607.3M1419.5 566.5V592.7M1422.0 567.3V592.7M1428.5 563.6V594.5M1432.0 559.3V580.0M1443.5 653.8V672.7M1446.0 653.8V668.4M1454.0 694.5V829.8M1456.5 709.1V745.5M1459.5 738.2V775.3M1467.0 683.6V700.0M1468.5 670.9V689.1M1471.5 712.7V749.1M1477.0 744.7V765.5M1479.0 706.5V740.7M1482.0 690.9V730.9M1495.5 669.1V700.7M1502.5 670.9V684.4M1504.0 627.3V658.2M1510.0 578.2V620.0M1512.5 554.5V589.1M1517.0 552.7V573.8M1522.0 574.5V599.3M1527.5 583.6V597.1M1530.0 589.1V610.2M1537.5 576.4V590.9M1548.0 611.0V628.9M1549.5 599.0V631.3M1554.5 585.9V606.2M1556.5 581.1V596.7M1559.5 552.5V593.1M1562.0 549.6V575.2M1565.5 536.3V548.9M1569.5 571.6V591.9M1572.0 572.8V594.3M1574.0 576.4V596.7M1585.0 574.5V602.6M1587.5 534.6V570.4M1602.0 562.5V600.2M1609.5 568.0V596.7M1612.5 558.5V581.1M1615.0 556.1V572.8M1617.0 539.4V566.8M1623.0 549.6V565.6M1626.0 515.5V534.6M1630.0 603.8V637.2M1640.5 662.8V681.9M1643.0 652.3V669.5M1647.5 631.3V652.7M1652.0 642.0V656.3M1661.0 677.1V690.9M1668.0 662.8V685.7M1669.5 658.0V672.3M1672.5 639.6V657.5M1675.5 631.7V654.7M1678.5 614.1V630.8M1682.5 624.6V640.3M1685.5 624.1V638.9M1687.5 611.0V621.7M1696.5 607.4V642.0M1697.5 608.6V620.5M1700.5 599.8V612.2M1703.5 590.7V606.2M1711.0 626.0V643.2M1718.0 607.9V642.0M1723.0 564.9V585.9M1725.5 555.4V568.0M1730.0 547.0V569.5M1733.0 542.0V558.0M1736.0 478.8V537.5M1740.0 464.5V483.0M1743.0 376.0V455.0M1746.0 382.0V398.0M1747.5 337.0V358.0M1750.5 327.5V377.5M1755.5 347.5V370.0M1757.5 350.0V370.0M1761.0 329.5V346.2M1764.0 325.0V338.8M1765.0 303.0V352.5M1768.0 233.8V268.8M1771.0 242.5V272.0M1774.0 208.8V236.2M1779.0 273.8V318.8M1786.0 302.5V333.0M1789.0 298.0V332.0M1791.5 226.2V286.2M1796.0 239.5V284.5M1799.0 214.5V251.2" stroke="#6cc79e" stroke-width="1.7" fill="none"/>
<path d="M54.0 654.5V658.0M57.0 668.8V681.5M60.5 669.2V676.7M68.0 648.3V662.5M71.5 653.6V655.7M78.5 652.2V669.2M86.0 653.7V657.4M89.0 648.0V656.3M92.5 662.5V683.4M96.0 683.1V699.6M99.5 689.8V695.5M103.5 694.8V707.1M110.0 711.2V728.2M113.5 724.6V742.6M131.5 727.7V745.7M142.0 681.1V700.6M148.5 690.1V696.1M156.0 677.4V682.2M159.5 680.5V687.4M167.0 655.3V658.6M170.5 651.6V654.2M174.0 668.3V682.6M178.0 662.3V671.0M184.5 680.7V691.4M189.5 695.3V718.7M195.0 720.9V735.2M201.5 715.9V721.2M204.5 732.2V742.6M206.5 754.8V770.4M237.0 689.6V693.2M252.0 616.8V628.8M255.0 639.7V655.1M258.5 593.7V613.2M266.0 548.7V559.6M269.0 557.8V571.9M272.5 562.9V566.2M276.0 570.9V587.7M280.0 582.1V586.7M283.0 576.3V583.3M294.0 557.8V574.4M298.0 579.0V589.3M301.5 588.5V598.1M304.5 602.0V610.2M312.0 605.6V611.6M319.0 572.7V598.3M322.5 588.1V608.4M340.0 623.0V629.1M347.0 553.2V573.3M351.0 570.9V587.2M354.5 579.5V584.9M361.0 655.7V676.2M368.0 657.2V662.1M375.0 597.4V611.6M378.0 611.7V617.2M380.0 625.7V640.6M383.0 646.6V663.1M400.5 675.9V688.0M407.0 684.8V692.4M410.5 690.9V696.5M421.0 642.2V646.4M436.5 655.8V660.7M443.0 651.4V654.1M446.0 668.4V693.4M449.0 695.2V706.1M451.0 705.6V716.3M454.0 715.3V726.4M463.5 748.3V761.8M470.5 755.6V767.5M474.0 750.6V755.4M489.0 748.8V758.4M492.5 753.2V764.2M496.0 763.7V770.8M499.0 747.9V754.2M513.5 723.7V739.9M516.5 732.5V740.1M520.0 734.6V748.3M523.5 750.1V758.5M527.0 758.9V770.5M538.0 752.9V756.9M555.5 693.4V696.3M558.5 685.1V688.1M573.0 645.4V654.0M580.0 639.0V645.1M588.0 635.7V641.6M591.5 640.6V648.9M594.5 648.2V649.5M629.5 558.4V566.8M633.0 568.5V574.5M641.5 546.7V549.5M644.0 551.9V556.5M647.5 564.4V580.5M650.5 598.6V621.7M652.0 615.4V627.6M659.0 601.3V605.6M662.0 604.0V606.0M665.0 592.5V596.6M668.0 597.8V607.9M669.0 606.6V609.9M679.5 546.5V561.2M697.0 358.6V372.0M710.0 314.8V329.1M714.5 284.8V295.7M722.0 299.3V333.1M728.0 267.2V275.9M730.0 255.9V264.0M732.0 270.1V277.6M735.5 289.6V313.1M737.0 306.5V327.6M742.5 264.6V268.5M750.0 256.8V266.6M753.0 266.1V273.2M760.5 201.2V215.7M767.5 133.3V152.0M770.0 199.1V241.3M775.0 222.0V238.9M778.0 234.6V246.3M780.5 246.1V265.8M788.0 240.0V258.3M793.0 196.5V221.6M798.0 198.6V205.6M800.5 213.5V229.6M802.5 214.5V220.9M805.5 211.4V224.2M810.5 199.4V209.9M818.5 197.4V210.4M820.5 194.9V208.7M823.0 198.5V209.3M824.5 182.6V197.1M827.5 172.1V183.1M832.5 239.5V286.4M835.5 283.3V305.2M838.0 310.6V336.6M841.0 337.6V347.9M845.5 290.0V312.3M853.0 290.4V291.7M856.0 301.8V320.0M859.0 339.3V354.9M868.0 292.4V301.1M870.5 300.0V301.3M877.0 285.6V307.0M883.5 269.7V280.5M891.0 281.5V283.3M894.0 283.1V288.7M895.5 229.0V252.3M905.5 212.4V221.6M908.5 233.4V242.9M911.5 231.1V233.3M913.0 226.2V236.9M915.5 245.0V255.6M920.5 111.8V137.2M923.0 109.9V122.9M929.0 113.8V125.2M934.0 86.8V99.7M937.0 103.0V119.5M944.0 101.0V104.0M948.0 92.3V106.8M951.5 116.2V141.8M956.0 127.5V142.8M961.5 106.7V116.0M963.5 123.5V135.6M971.5 83.0V84.6M976.5 50.1V61.4M979.0 65.7V77.9M984.0 39.1V57.9M986.0 43.0V54.3M989.0 206.8V268.3M991.0 254.7V303.4M994.0 295.0V309.0M1001.0 296.3V321.6M1004.5 348.3V392.0M1011.0 343.0V347.6M1014.5 229.0V294.3M1016.0 278.7V313.8M1019.0 396.9V479.6M1031.5 369.6V388.6M1034.0 385.3V394.1M1036.5 388.5V390.6M1043.5 310.3V331.5M1046.0 325.8V328.8M1049.5 291.1V310.5M1054.0 309.9V316.6M1057.0 330.8V353.1M1059.5 355.2V374.4M1074.5 375.7V390.1M1079.0 482.4V504.4M1082.0 510.0V561.9M1085.0 544.3V569.0M1086.0 556.9V569.8M1092.0 483.0V496.8M1096.5 484.8V490.4M1102.0 495.1V506.9M1107.0 479.4V496.5M1109.0 494.6V499.2M1112.0 483.1V491.2M1117.0 417.2V445.9M1120.0 432.8V442.0M1122.0 439.2V452.0M1124.5 446.2V449.5M1135.5 447.3V466.0M1138.0 460.7V462.0M1142.5 428.1V435.4M1149.5 459.3V558.6M1152.5 598.4V637.5M1155.5 623.4V642.5M1160.0 571.1V585.9M1164.5 583.6V593.9M1167.0 585.5V589.0M1173.0 597.4V603.0M1175.0 597.9V599.6M1177.5 612.1V623.5M1180.5 635.6V661.2M1185.0 651.2V652.8M1190.5 637.7V644.7M1195.0 634.2V651.9M1207.0 598.0V613.5M1210.0 639.1V664.6M1212.5 641.8V650.1M1215.5 641.6V655.9M1224.5 609.5V623.6M1227.5 629.9V643.1M1230.0 595.3V619.8M1242.0 565.9V570.1M1248.0 559.4V562.1M1250.5 564.4V569.7M1252.0 564.5V567.3M1268.5 531.1V551.1M1275.5 544.8V549.3M1280.5 557.1V571.2M1288.0 549.5V559.3M1293.5 451.0V467.3M1295.5 480.3V494.4M1301.0 483.5V488.8M1304.0 505.1V527.4M1305.5 494.9V509.0M1315.5 469.0V470.7M1318.5 475.0V477.1M1323.0 487.2V514.9M1326.0 498.2V508.9M1330.5 603.3V621.7M1333.5 504.4V554.8M1343.5 506.8V518.0M1351.0 516.6V520.2M1358.0 495.3V502.9M1364.0 462.0V473.9M1366.0 483.7V499.8M1368.5 485.4V492.0M1373.0 505.7V507.2M1376.0 511.4V518.9M1382.0 522.6V542.6M1386.0 519.6V526.4M1393.5 564.1V592.9M1396.5 556.0V568.7M1399.0 571.3V591.3M1401.0 568.7V573.7M1403.5 585.3V615.8M1407.0 612.8V639.4M1424.5 566.9V579.1M1434.5 569.3V584.3M1436.5 604.0V623.2M1439.5 624.3V646.3M1442.0 657.7V680.1M1449.0 690.4V722.4M1452.0 723.1V765.3M1461.0 645.6V717.6M1464.0 699.6V725.5M1474.0 725.1V732.7M1484.5 702.8V711.2M1487.5 702.6V706.8M1490.0 704.4V705.7M1492.5 713.8V723.8M1496.5 672.5V680.5M1499.5 681.0V691.4M1506.5 633.8V640.1M1514.5 554.7V567.8M1520.0 570.3V579.7M1524.5 588.2V589.5M1531.5 609.3V623.7M1534.5 589.6V600.0M1539.5 583.2V587.3M1542.0 557.8V574.5M1545.0 587.1V600.3M1552.0 589.6V603.5M1567.0 554.5V567.2M1577.0 579.1V584.0M1580.0 589.8V598.2M1583.0 599.8V606.5M1590.0 516.7V536.6M1592.0 543.5V567.9M1595.0 553.9V556.4M1598.0 557.3V562.3M1599.0 568.5V581.8M1605.0 571.1V579.9M1608.0 582.7V597.9M1620.0 558.2V562.3M1627.0 580.4V638.8M1632.5 610.3V616.1M1634.5 635.1V649.8M1637.5 661.1V681.1M1645.0 667.7V680.5M1650.5 640.1V644.3M1655.0 646.2V655.0M1658.0 674.6V698.7M1662.5 687.2V693.4M1665.5 690.5V699.9M1680.0 618.0V622.2M1690.5 620.2V626.6M1693.0 626.1V634.5M1705.0 592.6V598.9M1708.0 606.9V618.3M1714.0 646.5V656.4M1715.5 634.6V644.1M1721.0 583.3V600.7M1728.5 547.6V553.6M1739.0 444.3V472.2M1753.0 337.5V345.4M1775.5 233.3V249.7M1781.5 278.5V289.7M1783.0 300.3V343.4M1793.0 233.6V250.0M1801.0 228.6V232.6" stroke="#b04e59" stroke-width="1.7" fill="none"/>
<path d="M49.5 663.1V674.2M64.5 626.8V651.5M74.5 638.3V650.4M83.0 644.6V657.0M107.0 697.6V702.5M117.5 694.9V707.9M121.0 707.3V719.0M124.5 712.9V718.5M127.0 720.8V727.6M135.0 729.1V732.1M138.5 714.2V728.7M145.0 690.7V697.7M152.0 662.9V675.6M162.5 680.3V685.2M164.0 648.5V666.2M181.0 672.8V681.0M187.5 675.3V683.5M192.5 702.8V705.5M199.0 709.0V725.4M209.0 753.9V763.1M212.5 715.9V736.7M216.5 723.3V726.8M219.5 723.5V729.0M223.0 705.7V721.2M227.0 701.7V710.3M230.5 683.8V691.8M234.0 687.3V694.0M240.5 676.5V685.1M244.5 630.1V659.3M248.0 601.2V626.7M259.5 553.7V584.1M262.5 552.9V563.3M287.0 570.8V580.8M290.5 556.0V568.2M308.0 606.4V621.0M315.5 609.8V612.4M326.0 569.8V581.5M329.5 583.5V592.2M332.5 603.3V624.1M336.0 624.4V636.6M343.5 587.3V604.5M358.0 628.6V654.7M364.5 645.5V658.1M371.5 611.7V639.5M386.0 647.7V655.2M389.5 649.8V654.7M393.0 653.2V656.9M396.0 644.0V648.7M397.5 656.2V668.8M403.5 673.7V682.1M413.5 676.2V686.6M415.0 647.2V671.2M418.0 652.5V659.8M424.0 681.7V699.3M427.5 665.3V680.1M431.0 667.2V672.5M433.5 657.9V664.8M439.0 652.6V658.4M457.5 711.0V719.7M460.5 720.2V736.9M466.5 741.9V751.4M478.0 768.5V783.3M481.0 766.3V773.2M484.0 767.2V779.4M485.5 736.4V753.9M502.5 740.8V756.2M506.5 727.1V737.9M509.5 705.1V720.5M530.0 737.2V757.9M534.0 742.1V744.7M541.0 743.5V748.2M544.5 738.4V745.4M546.0 685.8V715.2M548.5 688.9V694.4M551.5 694.4V698.3M562.0 678.4V688.3M564.0 659.3V669.4M566.5 650.7V662.8M569.5 634.6V646.7M576.0 645.4V647.8M584.0 637.2V639.0M598.5 629.6V641.3M601.5 631.8V633.6M604.5 620.8V634.1M608.5 611.6V618.4M612.0 609.3V613.3M615.5 584.4V601.7M619.0 569.4V578.8M622.0 543.8V562.1M626.0 550.5V553.1M636.0 557.5V562.7M639.0 545.9V553.0M654.5 626.1V628.3M657.5 599.0V615.0M672.0 609.0V614.0M675.0 609.5V612.8M676.5 573.3V591.7M682.5 511.8V527.8M685.0 521.6V524.2M687.0 408.9V453.2M690.0 355.0V404.5M693.0 381.1V389.2M694.0 374.0V379.5M700.0 360.3V374.4M702.0 357.9V371.8M704.5 344.0V354.9M707.5 329.6V337.3M712.0 287.7V310.7M718.0 259.5V273.6M719.0 250.6V263.2M725.0 281.9V298.4M739.5 244.8V274.8M746.0 265.7V269.7M747.5 243.8V259.5M754.5 226.0V254.1M757.5 187.3V205.0M763.5 202.2V205.1M765.0 146.6V182.0M772.0 237.0V255.1M782.5 264.9V270.5M785.0 265.7V274.4M790.0 180.0V198.2M795.0 193.7V206.1M807.5 214.7V225.6M813.0 208.1V217.9M816.5 189.0V207.2M831.0 203.3V223.5M842.5 323.5V335.4M848.5 311.7V331.2M850.0 278.1V305.4M860.5 321.1V335.7M863.0 300.8V319.9M866.0 286.8V298.6M873.5 269.4V287.6M880.5 294.3V297.9M885.5 286.1V301.5M888.0 282.9V291.4M898.0 249.0V266.7M901.0 243.4V252.8M903.0 222.9V239.1M918.5 189.0V238.0M926.0 120.4V136.6M931.0 82.8V98.9M939.0 99.2V110.4M941.5 85.6V95.8M946.5 80.9V89.4M954.0 126.2V150.8M958.5 112.0V118.2M966.0 122.3V127.4M968.5 71.1V92.2M973.0 64.3V74.1M981.0 67.0V68.8M997.0 306.4V319.7M998.5 263.3V290.4M1007.0 341.2V369.6M1009.0 334.7V348.4M1022.0 503.4V577.6M1024.5 402.1V434.7M1026.5 376.3V400.3M1029.0 395.6V408.3M1039.5 370.0V384.0M1042.0 340.5V361.5M1048.0 314.8V322.1M1051.5 304.2V319.7M1061.0 377.3V391.0M1064.5 365.8V378.9M1067.5 356.1V372.6M1069.0 345.4V351.7M1072.0 348.6V354.6M1076.0 457.7V490.7M1089.0 522.2V534.7M1094.0 482.8V489.7M1099.5 484.8V491.9M1104.0 477.7V501.4M1114.5 489.6V506.1M1127.5 452.1V458.6M1129.5 441.7V453.2M1132.0 431.3V445.5M1139.5 438.7V453.8M1144.5 427.4V433.8M1146.5 381.4V403.2M1157.0 583.2V611.9M1163.0 566.7V576.4M1170.0 589.7V596.0M1182.0 650.9V653.6M1188.0 655.9V661.9M1192.0 655.5V666.0M1198.0 639.1V645.3M1199.5 622.3V636.6M1202.0 641.9V653.8M1205.5 577.7V623.6M1217.5 647.4V653.4M1220.0 613.3V632.9M1223.0 594.8V613.6M1233.5 599.2V609.3M1234.5 594.1V602.6M1237.5 556.5V581.7M1240.5 547.8V567.4M1245.0 563.4V575.0M1255.5 557.1V564.7M1258.5 545.0V556.5M1260.0 554.0V559.0M1262.5 520.1V534.3M1265.5 496.2V521.6M1270.5 557.1V575.8M1273.0 551.6V560.2M1277.5 540.9V543.0M1283.5 570.5V574.6M1286.0 553.2V564.1M1290.5 460.8V518.2M1298.0 484.3V493.8M1308.0 504.3V509.4M1311.5 454.8V479.6M1312.5 469.9V471.8M1321.5 463.7V471.3M1329.0 596.7V651.2M1336.5 526.3V531.2M1337.5 485.2V509.4M1340.5 513.6V537.7M1346.0 516.6V529.3M1348.0 506.8V518.3M1354.0 510.2V516.0M1355.5 491.3V502.8M1361.0 471.8V489.5M1371.5 499.6V510.9M1378.5 510.9V518.5M1383.5 508.8V524.3M1389.5 550.8V572.7M1390.5 535.1V556.9M1408.5 608.0V622.6M1411.0 614.7V617.5M1414.0 599.3V609.0M1416.5 587.9V593.9M1419.5 570.8V583.8M1422.0 578.7V584.3M1428.5 571.6V577.7M1432.0 565.8V574.9M1443.5 657.9V663.5M1446.0 658.6V661.1M1454.0 766.9V810.6M1456.5 712.1V744.1M1459.5 741.5V772.5M1467.0 684.5V698.9M1468.5 672.8V687.2M1471.5 713.8V745.8M1477.0 745.5V763.7M1479.0 707.3V737.4M1482.0 705.6V724.3M1495.5 672.9V698.0M1502.5 675.2V681.9M1504.0 628.9V656.1M1510.0 585.5V614.5M1512.5 555.3V585.7M1517.0 560.7V567.6M1522.0 584.1V597.6M1527.5 589.0V592.0M1530.0 590.9V602.6M1537.5 578.2V588.8M1548.0 612.2V628.0M1549.5 609.9V616.5M1554.5 590.8V593.1M1556.5 583.8V591.8M1559.5 563.5V577.9M1562.0 563.6V570.0M1565.5 536.8V547.9M1569.5 572.5V590.2M1572.0 584.0V589.8M1574.0 582.4V588.1M1585.0 582.8V594.6M1587.5 537.1V566.9M1602.0 568.4V581.8M1609.5 580.0V588.3M1612.5 565.5V577.6M1615.0 559.7V562.7M1617.0 542.5V552.5M1623.0 558.5V560.4M1626.0 517.1V533.9M1630.0 621.6V629.8M1640.5 671.1V676.0M1643.0 655.9V665.0M1647.5 632.1V651.0M1652.0 644.8V649.5M1661.0 679.3V684.2M1668.0 663.8V683.9M1669.5 661.0V666.7M1672.5 640.1V655.9M1675.5 636.3V642.3M1678.5 615.5V630.1M1682.5 625.9V637.0M1685.5 630.9V634.2M1687.5 611.4V620.8M1696.5 622.6V634.5M1697.5 609.9V618.4M1700.5 603.1V610.9M1703.5 596.2V602.3M1711.0 627.0V642.1M1718.0 614.1V630.3M1723.0 567.0V585.3M1725.5 556.7V566.9M1730.0 555.9V566.6M1733.0 545.9V556.5M1736.0 484.0V528.1M1740.0 465.1V479.9M1743.0 380.5V438.2M1746.0 382.8V396.9M1747.5 337.6V356.1M1750.5 336.3V347.9M1755.5 353.4V365.2M1757.5 353.3V357.2M1761.0 331.8V345.5M1764.0 326.4V334.1M1765.0 318.7V331.2M1768.0 236.7V267.5M1771.0 250.0V255.8M1774.0 210.5V232.2M1779.0 278.0V317.6M1786.0 314.0V327.0M1789.0 314.5V317.6M1791.5 234.6V281.2M1796.0 246.4V261.0M1799.0 219.6V241.9" stroke="#4f9070" stroke-width="1.7" fill="none"/>
<rect x="48" y="230.6" width="1890" height="1.4" fill="#87939a"/>
</svg>
<div class="ax" style="left:1859px;top:72.8px">301.41</div>
<div class="ax" style="left:1954.5px;top:72.8px">985.35</div>
<div class="ax" style="left:1859px;top:127.1px">285.68</div>
<div class="ax" style="left:1954.5px;top:127.1px">950.66</div>
<div class="ax" style="left:1859px;top:181.4px">269.95</div>
<div class="ax" style="left:1954.5px;top:181.4px">915.97</div>
<div class="ax" style="left:1859px;top:235.7px">254.21</div>
<div class="ax" style="left:1954.5px;top:235.7px">881.28</div>
<div class="ax" style="left:1859px;top:290.0px">238.48</div>
<div class="ax" style="left:1954.5px;top:290.0px">846.59</div>
<div class="ax" style="left:1859px;top:344.3px">222.75</div>
<div class="ax" style="left:1954.5px;top:344.3px">811.91</div>
<div class="ax" style="left:1859px;top:398.6px">207.02</div>
<div class="ax" style="left:1954.5px;top:398.6px">777.22</div>
<div class="ax" style="left:1859px;top:452.9px">191.29</div>
<div class="ax" style="left:1954.5px;top:452.9px">742.53</div>
<div class="ax" style="left:1859px;top:507.2px">175.56</div>
<div class="ax" style="left:1954.5px;top:507.2px">707.84</div>
<div class="ax" style="left:1859px;top:561.5px">159.83</div>
<div class="ax" style="left:1954.5px;top:561.5px">673.15</div>
<div class="ax" style="left:1859px;top:615.8px">144.10</div>
<div class="ax" style="left:1954.5px;top:615.8px">638.46</div>
<div class="ax" style="left:1859px;top:670.1px">128.37</div>
<div class="ax" style="left:1954.5px;top:670.1px">603.77</div>
<div class="ax" style="left:1859px;top:724.4px">112.63</div>
<div class="ax" style="left:1954.5px;top:724.4px">569.09</div>
<div class="dt" style="left:48.5px">25.01.2023</div>
<div class="dt" style="left:248.2px">19.05.2023</div>
<div class="dt" style="left:446.7px">07.09.2023</div>
<div class="dt" style="left:645.2px">29.12.2023</div>
<div class="dt" style="left:843.7px">23.04.2024</div>
<div class="dt" style="left:1042.2px">15.08.2024</div>
<div class="dt" style="left:1240.7px">04.12.2024</div>
<div class="dt" style="left:1439.2px">28.03.2025</div>
<div class="dt" style="left:1637.7px">22.07.2025</div>
<div class="dt" style="left:1836.2px">03.11.2025</div>

<!-- header -->
<div class="abs" style="left:240px;top:27px;width:16px;height:54.5px;background:#fff;"></div>
<div class="abs" style="left:73px;top:20.2px;font-size:17px;font-weight:bold;line-height:20px;color:#37474f;letter-spacing:-0.1px;">ASML.NL</div>
<div class="abs" style="left:154px;top:22.5px;font-size:11.5px;font-weight:bold;line-height:14px;color:#7d7d7d;letter-spacing:-0.2px;">Akcie</div>
<svg class="abs" style="left:190px;top:10px" width="150" height="40" viewBox="190 10 150 40">
<path d="M197.5 25H208.5L203 31.3Z" fill="#7a7a7a"/>
<circle cx="235" cy="28.5" r="8.9" fill="#8e8e8e"/>
<rect x="233.6" y="27" width="2.8" height="6.2" fill="#fff"/><rect x="232.6" y="27" width="2.4" height="1.4" fill="#fff"/><rect x="232.4" y="32.4" width="5.2" height="1.4" fill="#fff"/><circle cx="235" cy="24.2" r="1.6" fill="#fff"/>
<rect x="262.5" y="18.8" width="63" height="21.5" rx="3" fill="#fff" stroke="#dcdcdc" stroke-width="1.2"/>
<path d="M309 26.4H320L314.5 32Z" fill="#7a7a7a"/>
</svg>
<div class="abs" style="left:268.2px;top:20.3px;font-size:14.6px;line-height:20px;color:#4a5d68;letter-spacing:-0.6px;-webkit-text-stroke:0.2px #4a5d68;">D1</div>

<!-- row 2 -->
<div class="abs" style="left:73.7px;top:53.3px;width:56px;height:22.5px;background:#e8e8e8;border-radius:3px;color:#fff;font-size:15px;line-height:23px;text-align:center;letter-spacing:-0.2px;-webkit-text-stroke:0.3px #fff;">890.60</div>
<div class="abs" style="left:136.4px;top:53.2px;width:232.6px;height:21.2px;border:1.2px solid #dcdcdc;border-radius:3px;background:#fff;"></div>
<div class="abs" style="left:160px;top:54px;width:1.2px;height:21.5px;background:#dcdcdc;"></div>
<div class="abs" style="left:346px;top:54px;width:1.2px;height:21.5px;background:#dcdcdc;"></div>
<div class="abs" style="left:143.5px;top:63.3px;width:10.5px;height:1.8px;background:#222;"></div>
<div class="abs" style="left:231px;top:54px;width:20px;text-align:center;font-size:15px;line-height:22px;color:#222;font-weight:bold;">1</div>
<svg class="abs" style="left:300px;top:45px" width="290" height="40" viewBox="300 45 290 40">
<!-- swap -->
<g fill="none" stroke="#222" stroke-width="1.9">
<path d="M317 65V62.2H327.2"/><path d="M327.8 64.5V68H317.6"/>
</g>
<path d="M324.6 58.4L329.4 62.2L324.6 66Z" fill="#222"/><path d="M320.2 64.2L315.4 68L320.2 71.8Z" fill="#222"/>
<!-- plus -->
<path d="M353.3 64.1H363.7M358.5 58.9V69.3" stroke="#222" stroke-width="1.8" fill="none"/>
<!-- candle icon -->
<g fill="none" stroke="#6b7780" stroke-width="1.5">
<path d="M447.9 54.3V56.6M447.9 66.9V72.4"/><rect x="446.3" y="56.6" width="3.2" height="10.3"/>
<path d="M454 57.3V64.1M454 70.3V73.7"/><rect x="452.4" y="64.1" width="3.2" height="6.2"/>
<path d="M460.1 55.3V60M460.1 65.5V69.6"/><rect x="458.5" y="60" width="3.2" height="5.5"/>
</g>
<path d="M468.2 73.4V77.8H463.6Z" fill="#111"/>
<!-- zoom out -->
<g fill="none" stroke="#7a858c" stroke-width="1.9" stroke-linecap="round">
<circle cx="487.8" cy="61.8" r="7.4"/><path d="M493.2 67.4L497.8 73"/><path d="M483.8 61.8H491.8" stroke-width="1.7"/>
<circle cx="523.3" cy="61.8" r="7.4"/><path d="M528.7 67.4L533.3 73"/><path d="M519.3 61.8H527.3M523.3 57.8V65.8" stroke-width="1.7"/>
</g>
<!-- move -->
<g stroke="#7a858c" stroke-width="1.3" fill="none"><path d="M552.5 64.5H568.8M560.6 56.4V72.8"/></g>
<g fill="#7a858c"><path d="M560.6 55L562.9 58.2H558.3Z"/><path d="M560.6 74.2L562.9 71H558.3Z"/><path d="M551.2 64.5L554.4 62.2V66.8Z"/><path d="M570.2 64.5L567 62.2V66.8Z"/></g>
<path d="M575 73.4V77.8H570.4Z" fill="#111"/>
</svg>
<div class="abs" style="left:377px;top:53px;width:57px;height:23.2px;background:#0fa96b;border-radius:3px;color:#fff;font-size:15px;line-height:23.5px;text-align:center;letter-spacing:-0.2px;-webkit-text-stroke:0.35px #fff;">890.80</div>

<!-- top-right -->
<svg class="abs" style="left:1990px;top:8px" width="58" height="24" viewBox="1990 8 58 24">
<rect x="1996.7" y="12.6" width="13.2" height="13.2" fill="#b4babd"/><rect x="1998" y="20.2" width="10.6" height="2.8" fill="#fff"/>
<path d="M2017 15L2026.4 23.6M2026.4 15L2017 23.6" stroke="#b4babd" stroke-width="1.9" fill="none"/>
</svg>
<div class="abs" style="left:2045.2px;top:0;width:3px;height:880px;background:#e1e5e8;"></div>

<!-- left toolbar -->
<svg class="abs" style="left:0;top:200px" width="44" height="490" viewBox="0 200 44 490">
<g id="tb">
<rect x="7.5" y="209" width="18.5" height="15.4" fill="#fff" stroke="#8f999e" stroke-width="1.2"/><rect x="10.3" y="212" width="13" height="9.6" fill="#7b878e"/>
<path d="M35.2 230.7V234.9H31.1Z" fill="#111"/>
<rect x="0" y="246.5" width="35" height="1.4" fill="#dfe2e4"/>
<!-- plus -->
<path d="M9 315.5H25M17 307.5V323.5" stroke="#55656e" stroke-width="1.5" fill="none"/>
<!-- line tool -->
<g fill="none" stroke="#7a868d" stroke-width="1.5"><path d="M13.4 356.6L20 350"/><circle cx="11.6" cy="358.4" r="2.2" fill="#d5dadd"/><circle cx="21.8" cy="348.1" r="2.4" fill="#d5dadd"/></g>
<path d="M35.2 367.5V371.6H31.1Z" fill="#111"/>
<!-- rect -->
<rect x="9.8" y="385.8" width="14.6" height="11.4" fill="none" stroke="#44555f" stroke-width="1.5"/>
<path d="M35.2 405.8V409.9H31.1Z" fill="#111"/>
<!-- FZ -->
<g fill="none" stroke="#5c6b74" stroke-width="1.5"><path d="M16 426.8H25.8M12 432.4H25.8M12 438H25.8M25 426.8L12.5 438"/></g>
<path d="M8.4 428.9V423.2H12.2M8.4 426H11.4" stroke="#44555f" stroke-width="1.4" fill="none"/>
<path d="M35.2 444.2V448.3H31.1Z" fill="#111"/>
<!-- pitchfork -->
<g fill="none" stroke="#7a868d" stroke-width="1.3"><path d="M9.3 472.5L17.3 469.3"/><path d="M17.3 464.5V474.3"/><path d="M17.3 464.8L25.2 461.8M17.3 469.5L25.2 466.5M17.3 474.2L25.2 471.2"/></g>
<path d="M35.2 482.3V486.4H31.1Z" fill="#111"/>
<!-- T -->
<path d="M12 501.3H21.8M16.9 501.3V511.8" stroke="#55656e" stroke-width="1.7" fill="none"/>
<path d="M35.2 520.5V524.6H31.1Z" fill="#111"/>
<rect x="0" y="536" width="35" height="1.4" fill="#dfe2e4"/>
<!-- candles -->
<g fill="none" stroke="#44555f" stroke-width="1.4"><path d="M11.2 557V561.2M11.2 572.3V575.5"/><rect x="9.6" y="561.2" width="3.2" height="11.1"/><path d="M17 555V576.5" stroke="#7a868d"/><path d="M22.7 559.8V564M22.7 571.5V574.8"/><rect x="21.1" y="564" width="3.2" height="7.5"/></g>
<!-- layers -->
<g fill="none" stroke="#6b7780" stroke-width="1.4" stroke-linejoin="round"><path d="M16.8 595.8L25.6 600.4L16.8 605L8 600.4Z"/><path d="M8 604.6L16.8 609.2L25.6 604.6"/><path d="M8 608.8L16.8 613.4L25.6 608.8"/></g>
<path d="M35.2 618.8V623H31.1Z" fill="#111"/>
<rect x="0" y="635" width="35" height="1.4" fill="#dfe2e4"/>
<!-- share -->
<g fill="none" stroke="#5c6b74" stroke-width="1.4"><circle cx="23.4" cy="658.8" r="2.4"/><circle cx="9.9" cy="665.2" r="2.4"/><circle cx="23.4" cy="672" r="2.4"/><path d="M12.1 664.2L21.2 659.8M12.1 666.3L21.2 671"/></g>
</g>
</svg>
<div class="abs" style="left:5px;top:262.5px;font-size:21px;line-height:26px;color:#5c6b74;">f</div>
<div class="abs" style="left:11.6px;top:266.2px;font-size:15.5px;line-height:20px;color:#66757d;letter-spacing:-0.2px;-webkit-text-stroke:0.2px #66757d;">(x)</div>

<!-- price label -->
<svg class="abs" style="left:1930px;top:215px" width="100" height="34" viewBox="1930 215 100 34"><path d="M1936.4 231.4L1948.2 219.2H2024.4V243.7H1948.2Z" fill="#87939a"/></svg>
<div class="abs" style="left:1954.5px;top:221.4px;font-size:18px;line-height:22px;color:#fff;letter-spacing:0.25px;">890.60</div>

<!-- countdown -->
<div class="abs" style="left:1759px;top:801.6px;font-size:20px;line-height:24px;white-space:nowrap;letter-spacing:1.35px;"><span style="color:#f57c00">11</span><span style="color:#9ea7ad">h</span> <span style="color:#f57c00">39</span><span style="color:#9ea7ad">m</span></div>

<!-- legend -->
<div class="abs" style="left:1858.4px;top:795.7px;width:8.6px;height:8.4px;background:#4fc3f7;"></div>
<div class="abs" style="left:1872px;top:792.5px;font-size:12.3px;font-weight:bold;line-height:14px;color:#263238;letter-spacing:0.95px;">TSM.US</div>
<div class="abs" style="left:1953px;top:795.7px;width:8.8px;height:8.4px;background:#27ae73;"></div>
<div class="abs" style="left:1966px;top:792.7px;font-size:11.2px;font-weight:bold;line-height:14px;color:#263238;letter-spacing:0.6px;white-space:nowrap;">ASML.N..</div>
<svg class="abs" style="left:1855px;top:806px" width="175" height="32" viewBox="1855 806 175 32">
<!-- eye -->
<path d="M1861.6 825.6Q1871 815.8 1880.4 825.6Q1871 835.4 1861.6 825.6Z" fill="none" stroke="#7a858c" stroke-width="1.5"/>
<circle cx="1871" cy="825.4" r="3.9" fill="#55646d"/>
<!-- arrows -->
<path d="M1890.6 824.3L1896.6 818.2L1902.7 824.3Z" fill="#5c6b74"/><path d="M1890.6 827.2L1896.6 833L1902.7 827.2Z" fill="#5c6b74"/>
<!-- red x -->
<path d="M1911.5 820.3L1921 829.8M1921 820.3L1911.5 829.8" stroke="#e5484d" stroke-width="2.3" fill="none"/>
<!-- red button -->
<rect x="1961" y="809.3" width="59" height="23.5" rx="5.5" fill="#e53935"/>
<g fill="none" stroke="#fff" stroke-width="1.4"><path d="M1972.2 815.5V818M1972.2 824.9V828.9"/><rect x="1970.6" y="818" width="3.2" height="6.9"/><path d="M1978.3 814V829"/><path d="M1984.3 817V820M1984.3 824.9V827.7"/><rect x="1982.7" y="820" width="3.2" height="4.9"/></g>
<path d="M2002.4 818.2L2011.4 827M2011.4 818.2L2002.4 827" stroke="#fff" stroke-width="2" fill="none"/>
</svg>
</div>
</body></html>
